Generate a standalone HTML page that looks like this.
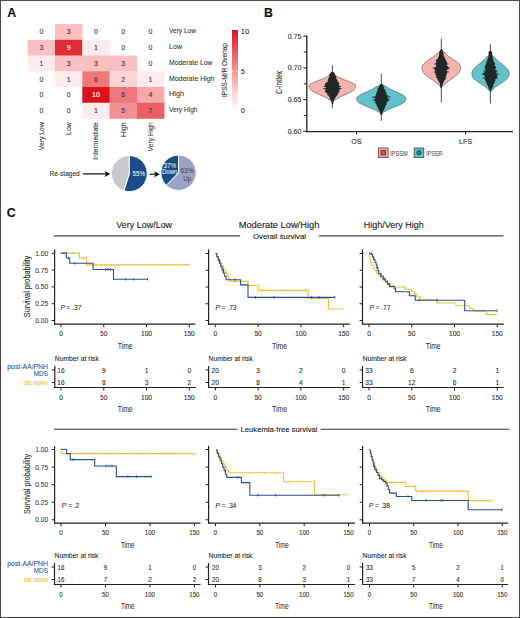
<!DOCTYPE html>
<html><head><meta charset="utf-8"><style>
html,body{margin:0;padding:0;background:#fff;}
#wrap{position:relative;width:520px;height:618px;overflow:hidden;background:#fff;}
svg{position:absolute;left:0;top:0;}
svg text{font-family:"Liberation Sans", sans-serif;}
</style></head><body><div id="wrap">
<svg width="520" height="618" viewBox="0 0 520 618">
<rect x="0" y="0" width="520" height="618" fill="#fff"/>
<text x="7.20" y="17.00" font-size="12.3" text-anchor="start" fill="#111" stroke="#111" stroke-width="0.12" font-weight="bold" >A</text>
<rect x="55.00" y="24.10" width="27.60" height="16.03" fill="rgb(249,191,193)"/>
<rect x="27.70" y="39.83" width="27.60" height="16.03" fill="rgb(249,191,193)"/>
<rect x="55.00" y="39.83" width="27.60" height="16.03" fill="rgb(222,45,51)"/>
<rect x="82.30" y="39.83" width="27.60" height="16.03" fill="rgb(254,235,236)"/>
<rect x="27.70" y="55.56" width="27.60" height="16.03" fill="rgb(254,235,236)"/>
<rect x="55.00" y="55.56" width="27.60" height="16.03" fill="rgb(249,191,193)"/>
<rect x="82.30" y="55.56" width="27.60" height="16.03" fill="rgb(249,191,193)"/>
<rect x="109.60" y="55.56" width="27.60" height="16.03" fill="rgb(249,191,193)"/>
<rect x="55.00" y="71.29" width="27.60" height="16.03" fill="rgb(254,235,236)"/>
<rect x="82.30" y="71.29" width="27.60" height="16.03" fill="rgb(238,120,123)"/>
<rect x="109.60" y="71.29" width="27.60" height="16.03" fill="rgb(252,214,215)"/>
<rect x="136.90" y="71.29" width="27.60" height="16.03" fill="rgb(254,235,236)"/>
<rect x="82.30" y="87.02" width="27.60" height="16.03" fill="rgb(216,20,26)"/>
<rect x="109.60" y="87.02" width="27.60" height="16.03" fill="rgb(238,120,123)"/>
<rect x="136.90" y="87.02" width="27.60" height="16.03" fill="rgb(246,168,170)"/>
<rect x="82.30" y="102.75" width="27.60" height="16.03" fill="rgb(254,235,236)"/>
<rect x="109.60" y="102.75" width="27.60" height="16.03" fill="rgb(242,144,147)"/>
<rect x="136.90" y="102.75" width="27.60" height="16.03" fill="rgb(233,95,99)"/>
<text x="41.35" y="34.37" font-size="7" text-anchor="middle" fill="#4a3535" stroke="#4a3535" stroke-width="0.12" >0</text>
<text x="68.65" y="34.37" font-size="7" text-anchor="middle" fill="#4a3535" stroke="#4a3535" stroke-width="0.12" >3</text>
<text x="95.95" y="34.37" font-size="7" text-anchor="middle" fill="#4a3535" stroke="#4a3535" stroke-width="0.12" >0</text>
<text x="123.25" y="34.37" font-size="7" text-anchor="middle" fill="#4a3535" stroke="#4a3535" stroke-width="0.12" >0</text>
<text x="150.55" y="34.37" font-size="7" text-anchor="middle" fill="#4a3535" stroke="#4a3535" stroke-width="0.12" >0</text>
<text x="41.35" y="50.09" font-size="7" text-anchor="middle" fill="#4a3535" stroke="#4a3535" stroke-width="0.12" >3</text>
<text x="68.65" y="50.09" font-size="7" text-anchor="middle" fill="#fff" stroke="#fff" stroke-width="0.12" >9</text>
<text x="95.95" y="50.09" font-size="7" text-anchor="middle" fill="#4a3535" stroke="#4a3535" stroke-width="0.12" >1</text>
<text x="123.25" y="50.09" font-size="7" text-anchor="middle" fill="#4a3535" stroke="#4a3535" stroke-width="0.12" >0</text>
<text x="150.55" y="50.09" font-size="7" text-anchor="middle" fill="#4a3535" stroke="#4a3535" stroke-width="0.12" >0</text>
<text x="41.35" y="65.83" font-size="7" text-anchor="middle" fill="#4a3535" stroke="#4a3535" stroke-width="0.12" >1</text>
<text x="68.65" y="65.83" font-size="7" text-anchor="middle" fill="#4a3535" stroke="#4a3535" stroke-width="0.12" >3</text>
<text x="95.95" y="65.83" font-size="7" text-anchor="middle" fill="#4a3535" stroke="#4a3535" stroke-width="0.12" >3</text>
<text x="123.25" y="65.83" font-size="7" text-anchor="middle" fill="#4a3535" stroke="#4a3535" stroke-width="0.12" >3</text>
<text x="150.55" y="65.83" font-size="7" text-anchor="middle" fill="#4a3535" stroke="#4a3535" stroke-width="0.12" >0</text>
<text x="41.35" y="81.55" font-size="7" text-anchor="middle" fill="#4a3535" stroke="#4a3535" stroke-width="0.12" >0</text>
<text x="68.65" y="81.55" font-size="7" text-anchor="middle" fill="#4a3535" stroke="#4a3535" stroke-width="0.12" >1</text>
<text x="95.95" y="81.55" font-size="7" text-anchor="middle" fill="#4a3535" stroke="#4a3535" stroke-width="0.12" >6</text>
<text x="123.25" y="81.55" font-size="7" text-anchor="middle" fill="#4a3535" stroke="#4a3535" stroke-width="0.12" >2</text>
<text x="150.55" y="81.55" font-size="7" text-anchor="middle" fill="#4a3535" stroke="#4a3535" stroke-width="0.12" >1</text>
<text x="41.35" y="97.29" font-size="7" text-anchor="middle" fill="#4a3535" stroke="#4a3535" stroke-width="0.12" >0</text>
<text x="68.65" y="97.29" font-size="7" text-anchor="middle" fill="#4a3535" stroke="#4a3535" stroke-width="0.12" >0</text>
<text x="95.95" y="97.29" font-size="7" text-anchor="middle" fill="#fff" stroke="#fff" stroke-width="0.12" >10</text>
<text x="123.25" y="97.29" font-size="7" text-anchor="middle" fill="#4a3535" stroke="#4a3535" stroke-width="0.12" >6</text>
<text x="150.55" y="97.29" font-size="7" text-anchor="middle" fill="#4a3535" stroke="#4a3535" stroke-width="0.12" >4</text>
<text x="41.35" y="113.02" font-size="7" text-anchor="middle" fill="#4a3535" stroke="#4a3535" stroke-width="0.12" >0</text>
<text x="68.65" y="113.02" font-size="7" text-anchor="middle" fill="#4a3535" stroke="#4a3535" stroke-width="0.12" >0</text>
<text x="95.95" y="113.02" font-size="7" text-anchor="middle" fill="#4a3535" stroke="#4a3535" stroke-width="0.12" >1</text>
<text x="123.25" y="113.02" font-size="7" text-anchor="middle" fill="#4a3535" stroke="#4a3535" stroke-width="0.12" >5</text>
<text x="150.55" y="113.02" font-size="7" text-anchor="middle" fill="#4a3535" stroke="#4a3535" stroke-width="0.12" >7</text>
<text x="169.00" y="33.37" font-size="7" text-anchor="start" fill="#333" stroke="#333" stroke-width="0.08" textLength="27" lengthAdjust="spacingAndGlyphs" >Very Low</text>
<text x="169.00" y="49.09" font-size="7" text-anchor="start" fill="#333" stroke="#333" stroke-width="0.08" textLength="13" lengthAdjust="spacingAndGlyphs" >Low</text>
<text x="169.00" y="64.83" font-size="7" text-anchor="start" fill="#333" stroke="#333" stroke-width="0.08" textLength="43.5" lengthAdjust="spacingAndGlyphs" >Moderate Low</text>
<text x="169.00" y="80.55" font-size="7" text-anchor="start" fill="#333" stroke="#333" stroke-width="0.08" textLength="45.4" lengthAdjust="spacingAndGlyphs" >Moderate High</text>
<text x="169.00" y="96.29" font-size="7" text-anchor="start" fill="#333" stroke="#333" stroke-width="0.08" textLength="15" lengthAdjust="spacingAndGlyphs" >High</text>
<text x="169.00" y="112.02" font-size="7" text-anchor="start" fill="#333" stroke="#333" stroke-width="0.08" textLength="28.5" lengthAdjust="spacingAndGlyphs" >Very High</text>
<text x="43.75" y="122.20" font-size="7" text-anchor="end" fill="#333" stroke="#333" stroke-width="0.08" textLength="28" lengthAdjust="spacingAndGlyphs" transform="rotate(-90 43.75 122.20)" >Very Low</text>
<text x="71.05" y="122.20" font-size="7" text-anchor="end" fill="#333" stroke="#333" stroke-width="0.08" textLength="12.7" lengthAdjust="spacingAndGlyphs" transform="rotate(-90 71.05 122.20)" >Low</text>
<text x="98.35" y="122.20" font-size="7" text-anchor="end" fill="#333" stroke="#333" stroke-width="0.08" textLength="37.5" lengthAdjust="spacingAndGlyphs" transform="rotate(-90 98.35 122.20)" >Intermediate</text>
<text x="125.65" y="122.20" font-size="7" text-anchor="end" fill="#333" stroke="#333" stroke-width="0.08" textLength="14.8" lengthAdjust="spacingAndGlyphs" transform="rotate(-90 125.65 122.20)" >High</text>
<text x="152.95" y="122.20" font-size="7" text-anchor="end" fill="#333" stroke="#333" stroke-width="0.08" textLength="29.3" lengthAdjust="spacingAndGlyphs" transform="rotate(-90 152.95 122.20)" >Very High</text>
<defs><linearGradient id="cb" x1="0" y1="0" x2="0" y2="1"><stop offset="0.0" stop-color="rgb(216,20,26)"/><stop offset="0.1" stop-color="rgb(222,45,51)"/><stop offset="0.2" stop-color="rgb(228,70,75)"/><stop offset="0.3" stop-color="rgb(233,95,99)"/><stop offset="0.4" stop-color="rgb(238,120,123)"/><stop offset="0.5" stop-color="rgb(242,144,147)"/><stop offset="0.6" stop-color="rgb(246,168,170)"/><stop offset="0.7" stop-color="rgb(249,191,193)"/><stop offset="0.8" stop-color="rgb(252,214,215)"/><stop offset="0.9" stop-color="rgb(254,235,236)"/><stop offset="1.0" stop-color="rgb(255,255,255)"/></linearGradient></defs>
<rect x="232" y="30" width="6" height="80" fill="url(#cb)"/>
<line x1="232.00" y1="70.90" x2="233.60" y2="70.90" stroke="#fff" stroke-width="0.8"/>
<line x1="236.40" y1="70.90" x2="238.00" y2="70.90" stroke="#fff" stroke-width="0.8"/>
<text x="240.80" y="34.00" font-size="7.4" text-anchor="start" fill="#333" stroke="#333" stroke-width="0.12" >10</text>
<text x="240.80" y="73.60" font-size="7.4" text-anchor="start" fill="#333" stroke="#333" stroke-width="0.12" >5</text>
<text x="240.80" y="113.00" font-size="7.4" text-anchor="start" fill="#333" stroke="#333" stroke-width="0.12" >0</text>
<text x="227.40" y="70.00" font-size="7.4" text-anchor="middle" fill="#333" stroke="#333" stroke-width="0.12" textLength="54" lengthAdjust="spacingAndGlyphs" transform="rotate(-90 227.40 70.00)" >IPSS-M/R Overlap</text>
<text x="49.50" y="175.60" font-size="7.4" text-anchor="start" fill="#333" stroke="#333" stroke-width="0.12" textLength="30.2" lengthAdjust="spacingAndGlyphs" >Re-staged</text>
<line x1="83.00" y1="173.90" x2="106.50" y2="173.90" stroke="#111" stroke-width="1.2"/>
<path d="M110.50 173.90 L104.50 170.90 L106.00 173.90 L104.50 176.90 Z" fill="#111"/>
<line x1="149.60" y1="174.20" x2="156.00" y2="174.20" stroke="#111" stroke-width="1.2"/>
<path d="M160.00 174.20 L154.00 171.20 L155.50 174.20 L154.00 177.20 Z" fill="#111"/>
<path d="M129.30 173.60 L128.99 155.60 A18 18 0 1 1 123.74 190.72 Z" fill="#1b4c8a" stroke="#fff" stroke-width="1"/>
<path d="M129.30 173.60 L123.74 190.72 A18 18 0 0 1 128.99 155.60 Z" fill="#c8c8cd" stroke="#fff" stroke-width="1"/>
<path d="M178.50 172.70 L178.50 155.00 A17.7 17.7 0 1 1 166.20 185.43 Z" fill="#9aa3c5" stroke="#fff" stroke-width="1"/>
<path d="M178.50 172.70 L166.20 185.43 A17.7 17.7 0 0 1 178.50 155.00 Z" fill="#1b4c8a" stroke="#fff" stroke-width="1"/>
<text x="138.70" y="176.20" font-size="7" text-anchor="middle" fill="#fff" textLength="12.5" lengthAdjust="spacingAndGlyphs" >55%</text>
<text x="169.90" y="167.60" font-size="7" text-anchor="middle" fill="#fff" textLength="12.7" lengthAdjust="spacingAndGlyphs" >37%</text>
<text x="169.70" y="174.00" font-size="7" text-anchor="middle" fill="#fff" textLength="15.5" lengthAdjust="spacingAndGlyphs" >Down</text>
<text x="187.00" y="172.70" font-size="7" text-anchor="middle" fill="#3d4058" textLength="13" lengthAdjust="spacingAndGlyphs" >63%</text>
<text x="187.30" y="180.60" font-size="7" text-anchor="middle" fill="#3d4058" textLength="8" lengthAdjust="spacingAndGlyphs" >Up</text>
<text x="264.00" y="17.00" font-size="12.3" text-anchor="start" fill="#111" stroke="#111" stroke-width="0.12" font-weight="bold" >B</text>
<line x1="306.80" y1="35.50" x2="306.80" y2="132.20" stroke="#222" stroke-width="1.3"/>
<line x1="306.20" y1="131.60" x2="513.00" y2="131.60" stroke="#222" stroke-width="1.3"/>
<line x1="303.30" y1="36.20" x2="306.80" y2="36.20" stroke="#222" stroke-width="1"/>
<text x="301.30" y="38.60" font-size="7" text-anchor="end" fill="#333" stroke="#333" stroke-width="0.12" >0.75</text>
<line x1="303.30" y1="67.90" x2="306.80" y2="67.90" stroke="#222" stroke-width="1"/>
<text x="301.30" y="70.30" font-size="7" text-anchor="end" fill="#333" stroke="#333" stroke-width="0.12" >0.70</text>
<line x1="303.30" y1="99.70" x2="306.80" y2="99.70" stroke="#222" stroke-width="1"/>
<text x="301.30" y="102.10" font-size="7" text-anchor="end" fill="#333" stroke="#333" stroke-width="0.12" >0.65</text>
<line x1="303.30" y1="131.20" x2="306.80" y2="131.20" stroke="#222" stroke-width="1"/>
<text x="301.30" y="133.60" font-size="7" text-anchor="end" fill="#333" stroke="#333" stroke-width="0.12" >0.60</text>
<line x1="303.80" y1="52.05" x2="306.80" y2="52.05" stroke="#222" stroke-width="1"/>
<line x1="303.80" y1="83.80" x2="306.80" y2="83.80" stroke="#222" stroke-width="1"/>
<line x1="303.80" y1="115.45" x2="306.80" y2="115.45" stroke="#222" stroke-width="1"/>
<text x="282.30" y="82.50" font-size="8.5" text-anchor="middle" fill="#333" stroke="#333" stroke-width="0.12" textLength="23" lengthAdjust="spacingAndGlyphs" transform="rotate(-90 282.30 82.50)" >C-index</text>
<line x1="356.50" y1="131.60" x2="356.50" y2="134.50" stroke="#222" stroke-width="1"/>
<text x="356.50" y="144.00" font-size="7.2" text-anchor="middle" fill="#333" stroke="#333" stroke-width="0.12" >OS</text>
<line x1="465.60" y1="131.60" x2="465.60" y2="134.50" stroke="#222" stroke-width="1"/>
<text x="465.60" y="144.00" font-size="7.2" text-anchor="middle" fill="#333" stroke="#333" stroke-width="0.12" >LFS</text>
<rect x="378.4" y="148" width="9.6" height="9.6" fill="#f5b0aa" stroke="#444" stroke-width="0.8"/>
<rect x="381" y="150.6" width="4.4" height="4.4" fill="#c85560" stroke="#9a2030" stroke-width="1"/>
<text x="390.20" y="155.60" font-size="6.8" text-anchor="start" fill="#444" stroke="#444" stroke-width="0.04" textLength="17.5" lengthAdjust="spacingAndGlyphs" >IPSSM</text>
<rect x="414.2" y="148" width="9.6" height="9.6" fill="#5ec3c8" stroke="#444" stroke-width="0.8"/>
<circle cx="419" cy="152.8" r="2.1" fill="#2d8f95" stroke="#173838" stroke-width="1"/>
<text x="426.00" y="155.60" font-size="6.8" text-anchor="start" fill="#444" stroke="#444" stroke-width="0.04" textLength="16.5" lengthAdjust="spacingAndGlyphs" >IPSSR</text>
<path d="M332.40 71.50 L332.54 71.89 L332.71 72.28 L332.91 72.67 L333.16 73.06 L333.49 73.45 L333.89 73.84 L334.39 74.23 L334.91 74.62 L335.32 75.01 L335.78 75.40 L336.30 75.79 L336.87 76.18 L337.49 76.57 L338.17 76.96 L338.91 77.35 L339.70 77.74 L340.54 78.13 L341.43 78.52 L342.37 78.91 L343.34 79.30 L344.34 79.69 L345.36 80.08 L346.39 80.47 L347.43 80.86 L348.45 81.25 L349.45 81.64 L350.41 82.03 L351.33 82.42 L352.19 82.81 L352.97 83.20 L353.67 83.59 L354.27 83.98 L354.77 84.37 L355.16 84.76 L355.43 85.15 L355.57 85.54 L355.60 85.93 L355.59 86.32 L355.56 86.71 L355.51 87.10 L355.42 87.49 L355.28 87.88 L355.11 88.27 L354.88 88.66 L354.61 89.05 L354.28 89.44 L353.89 89.83 L353.45 90.22 L352.96 90.61 L352.40 91.00 L351.80 91.39 L351.15 91.78 L350.45 92.17 L349.70 92.56 L348.92 92.95 L348.12 93.34 L347.28 93.73 L346.43 94.12 L345.56 94.51 L344.69 94.90 L343.82 95.29 L342.97 95.68 L342.12 96.07 L341.30 96.46 L340.50 96.85 L339.73 97.24 L339.00 97.63 L338.31 98.02 L337.66 98.41 L337.06 98.80 L336.50 99.19 L335.98 99.58 L335.29 99.97 L334.60 100.36 L334.03 100.75 L333.56 101.14 L333.18 101.53 L332.88 101.92 L332.63 102.31 L332.40 102.70 L332.40 102.70 L332.17 102.31 L331.92 101.92 L331.62 101.53 L331.24 101.14 L330.77 100.75 L330.20 100.36 L329.51 99.97 L328.82 99.58 L328.30 99.19 L327.74 98.80 L327.14 98.41 L326.49 98.02 L325.80 97.63 L325.07 97.24 L324.30 96.85 L323.50 96.46 L322.68 96.07 L321.83 95.68 L320.98 95.29 L320.11 94.90 L319.24 94.51 L318.37 94.12 L317.52 93.73 L316.68 93.34 L315.88 92.95 L315.10 92.56 L314.35 92.17 L313.65 91.78 L313.00 91.39 L312.40 91.00 L311.84 90.61 L311.35 90.22 L310.91 89.83 L310.52 89.44 L310.19 89.05 L309.92 88.66 L309.69 88.27 L309.52 87.88 L309.38 87.49 L309.29 87.10 L309.24 86.71 L309.21 86.32 L309.20 85.93 L309.23 85.54 L309.37 85.15 L309.64 84.76 L310.03 84.37 L310.53 83.98 L311.13 83.59 L311.83 83.20 L312.61 82.81 L313.47 82.42 L314.39 82.03 L315.35 81.64 L316.35 81.25 L317.37 80.86 L318.41 80.47 L319.44 80.08 L320.46 79.69 L321.46 79.30 L322.43 78.91 L323.37 78.52 L324.26 78.13 L325.10 77.74 L325.89 77.35 L326.63 76.96 L327.31 76.57 L327.93 76.18 L328.50 75.79 L329.02 75.40 L329.48 75.01 L329.89 74.62 L330.41 74.23 L330.91 73.84 L331.31 73.45 L331.64 73.06 L331.89 72.67 L332.09 72.28 L332.26 71.89 L332.40 71.50Z" fill="#f6b3ad" stroke="#444" stroke-width="0.6"/>
<line x1="332.40" y1="65.20" x2="332.40" y2="108.00" stroke="#222" stroke-width="0.8"/>
<path d="M333.42 72.00 L334.11 72.80 L334.97 73.60 L334.78 74.40 L335.17 75.20 L336.12 76.00 L336.11 76.80 L336.16 77.60 L336.47 78.40 L336.62 79.20 L337.15 80.00 L337.77 80.80 L337.40 81.60 L338.97 82.40 L339.09 83.20 L339.30 84.00 L338.79 84.80 L339.11 85.60 L340.32 86.40 L338.58 87.20 L340.74 88.00 L339.98 88.80 L339.45 89.60 L338.74 90.40 L338.94 91.20 L338.80 92.00 L338.79 92.80 L337.98 93.60 L337.82 94.40 L337.39 95.20 L336.61 96.00 L336.27 96.80 L335.20 97.60 L335.30 98.40 L334.22 99.20 L334.03 100.00 L333.54 100.80 L333.56 101.60 L333.35 102.40 L333.25 103.20 L333.16 104.00 L331.61 104.00 L331.66 103.20 L331.63 102.40 L331.53 101.60 L331.05 100.80 L330.93 100.00 L330.05 99.20 L329.38 98.40 L329.84 97.60 L328.84 96.80 L328.88 96.00 L327.93 95.20 L326.80 94.40 L327.76 93.60 L325.74 92.80 L325.48 92.00 L325.14 91.20 L325.51 90.40 L325.65 89.60 L325.65 88.80 L325.39 88.00 L326.02 87.20 L326.40 86.40 L324.52 85.60 L325.07 84.80 L325.03 84.00 L325.36 83.20 L326.63 82.40 L327.91 81.60 L327.31 80.80 L328.60 80.00 L327.87 79.20 L328.02 78.40 L329.25 77.60 L329.10 76.80 L329.26 76.00 L329.66 75.20 L329.19 74.40 L330.31 73.60 L330.54 72.80 L331.26 72.00Z" fill="#1f2826"/>
<line x1="323.90" y1="86.50" x2="340.90" y2="86.50" stroke="#1f2826" stroke-width="1.0"/>
<line x1="323.30" y1="88.70" x2="341.50" y2="88.70" stroke="#1f2826" stroke-width="1.0"/>
<line x1="324.90" y1="91.00" x2="339.90" y2="91.00" stroke="#1f2826" stroke-width="1.0"/>
<path d="M381.30 83.80 L381.77 84.18 L382.22 84.56 L382.73 84.95 L383.32 85.33 L384.00 85.71 L384.78 86.09 L385.67 86.48 L386.60 86.86 L387.15 87.24 L387.73 87.62 L388.35 88.01 L389.00 88.39 L389.69 88.77 L390.41 89.16 L391.15 89.54 L391.93 89.92 L392.73 90.30 L393.54 90.69 L394.38 91.07 L395.22 91.45 L396.07 91.83 L396.92 92.22 L397.77 92.60 L398.60 92.98 L399.42 93.36 L400.22 93.75 L400.99 94.13 L401.72 94.51 L402.41 94.89 L403.05 95.28 L403.64 95.66 L404.17 96.04 L404.63 96.42 L405.03 96.81 L405.36 97.19 L405.61 97.57 L405.79 97.95 L405.88 98.34 L405.90 98.72 L405.89 99.10 L405.86 99.48 L405.79 99.87 L405.68 100.25 L405.52 100.63 L405.31 101.01 L405.03 101.40 L404.70 101.78 L404.30 102.16 L403.83 102.54 L403.30 102.93 L402.71 103.31 L402.05 103.69 L401.32 104.07 L400.55 104.46 L399.72 104.84 L398.85 105.22 L397.95 105.60 L397.01 105.98 L396.05 106.37 L395.08 106.75 L394.10 107.13 L393.13 107.52 L392.17 107.90 L391.24 108.28 L390.33 108.66 L389.45 109.05 L388.61 109.43 L387.82 109.81 L387.08 110.19 L386.39 110.58 L385.75 110.96 L385.16 111.34 L384.34 111.72 L383.60 112.11 L382.99 112.49 L382.49 112.87 L382.09 113.25 L381.78 113.64 L381.53 114.02 L381.30 114.40 L381.30 114.40 L381.07 114.02 L380.82 113.64 L380.51 113.25 L380.11 112.87 L379.61 112.49 L379.00 112.11 L378.26 111.72 L377.44 111.34 L376.85 110.96 L376.21 110.58 L375.52 110.19 L374.78 109.81 L373.99 109.43 L373.15 109.05 L372.27 108.66 L371.36 108.28 L370.43 107.90 L369.47 107.52 L368.50 107.13 L367.52 106.75 L366.55 106.37 L365.59 105.98 L364.65 105.60 L363.75 105.22 L362.88 104.84 L362.05 104.46 L361.28 104.07 L360.55 103.69 L359.89 103.31 L359.30 102.93 L358.77 102.54 L358.30 102.16 L357.90 101.78 L357.57 101.40 L357.29 101.01 L357.08 100.63 L356.92 100.25 L356.81 99.87 L356.74 99.48 L356.71 99.10 L356.70 98.72 L356.72 98.34 L356.81 97.95 L356.99 97.57 L357.24 97.19 L357.57 96.81 L357.97 96.42 L358.43 96.04 L358.96 95.66 L359.55 95.28 L360.19 94.89 L360.88 94.51 L361.61 94.13 L362.38 93.75 L363.18 93.36 L364.00 92.98 L364.83 92.60 L365.68 92.22 L366.53 91.83 L367.38 91.45 L368.22 91.07 L369.06 90.69 L369.87 90.30 L370.67 89.92 L371.45 89.54 L372.19 89.16 L372.91 88.77 L373.60 88.39 L374.25 88.01 L374.87 87.62 L375.45 87.24 L376.00 86.86 L376.93 86.48 L377.82 86.09 L378.60 85.71 L379.28 85.33 L379.87 84.95 L380.38 84.56 L380.83 84.18 L381.30 83.80Z" fill="#5fc3c9" stroke="#444" stroke-width="0.6"/>
<line x1="381.30" y1="73.70" x2="381.30" y2="121.00" stroke="#222" stroke-width="0.8"/>
<path d="M382.20 84.00 L382.65 84.82 L383.36 85.63 L383.45 86.45 L384.10 87.26 L383.82 88.08 L384.38 88.89 L385.39 89.71 L385.13 90.53 L385.70 91.34 L385.87 92.16 L386.82 92.97 L386.25 93.79 L386.23 94.61 L388.06 95.42 L387.56 96.24 L387.62 97.05 L386.90 97.87 L388.57 98.68 L388.54 99.50 L388.39 100.32 L388.18 101.13 L386.43 101.95 L387.56 102.76 L386.38 103.58 L386.67 104.39 L385.90 105.21 L385.56 106.03 L385.12 106.84 L385.34 107.66 L384.64 108.47 L383.95 109.29 L383.96 110.11 L383.06 110.92 L382.94 111.74 L382.41 112.55 L382.43 113.37 L382.25 114.18 L381.93 115.00 L380.59 115.00 L380.56 114.18 L380.31 113.37 L380.19 112.55 L379.98 111.74 L379.37 110.92 L379.11 110.11 L378.74 109.29 L377.77 108.47 L378.22 107.66 L377.37 106.84 L376.68 106.03 L376.78 105.21 L376.43 104.39 L375.82 103.58 L374.44 102.76 L376.09 101.95 L374.35 101.13 L374.97 100.32 L374.45 99.50 L375.42 98.68 L374.30 97.87 L374.61 97.05 L376.20 96.24 L375.47 95.42 L376.25 94.61 L375.83 93.79 L376.51 92.97 L376.63 92.16 L376.98 91.34 L377.39 90.53 L377.86 89.71 L377.48 88.89 L377.92 88.08 L378.93 87.26 L378.97 86.45 L379.63 85.63 L380.07 84.82 L380.25 84.00Z" fill="#1f2826"/>
<line x1="372.30" y1="97.00" x2="390.30" y2="97.00" stroke="#1f2826" stroke-width="1.0"/>
<line x1="372.80" y1="100.00" x2="389.80" y2="100.00" stroke="#1f2826" stroke-width="1.0"/>
<path d="M441.30 49.20 L441.67 49.68 L442.04 50.16 L442.46 50.64 L442.96 51.12 L443.54 51.60 L444.22 52.08 L444.69 52.56 L445.09 53.04 L445.53 53.52 L445.99 54.00 L446.49 54.48 L447.02 54.96 L447.58 55.44 L448.17 55.92 L448.79 56.40 L449.43 56.88 L450.10 57.36 L450.78 57.84 L451.48 58.32 L452.19 58.80 L452.90 59.28 L453.62 59.76 L454.33 60.24 L455.03 60.72 L455.71 61.20 L456.37 61.68 L457.01 62.16 L457.60 62.64 L458.16 63.12 L458.67 63.60 L459.13 64.08 L459.54 64.56 L459.88 65.04 L460.16 65.52 L460.38 66.00 L460.52 66.48 L460.59 66.96 L460.60 67.44 L460.59 67.92 L460.57 68.40 L460.52 68.88 L460.45 69.36 L460.35 69.84 L460.21 70.32 L460.04 70.80 L459.83 71.28 L459.58 71.76 L459.28 72.24 L458.95 72.72 L458.57 73.20 L458.15 73.68 L457.69 74.16 L457.19 74.64 L456.65 75.12 L456.08 75.60 L455.48 76.08 L454.86 76.56 L454.21 77.04 L453.54 77.52 L452.86 78.00 L452.18 78.48 L451.48 78.96 L450.80 79.44 L450.11 79.92 L449.44 80.40 L448.79 80.88 L448.15 81.36 L447.54 81.84 L446.95 82.32 L446.39 82.80 L445.86 83.28 L445.37 83.76 L444.91 84.24 L444.38 84.72 L443.64 85.20 L443.00 85.68 L442.47 86.16 L442.03 86.64 L441.66 87.12 L441.30 87.60 L441.30 87.60 L440.94 87.12 L440.57 86.64 L440.13 86.16 L439.60 85.68 L438.96 85.20 L438.22 84.72 L437.69 84.24 L437.23 83.76 L436.74 83.28 L436.21 82.80 L435.65 82.32 L435.06 81.84 L434.45 81.36 L433.81 80.88 L433.16 80.40 L432.49 79.92 L431.80 79.44 L431.12 78.96 L430.42 78.48 L429.74 78.00 L429.06 77.52 L428.39 77.04 L427.74 76.56 L427.12 76.08 L426.52 75.60 L425.95 75.12 L425.41 74.64 L424.91 74.16 L424.45 73.68 L424.03 73.20 L423.65 72.72 L423.32 72.24 L423.02 71.76 L422.77 71.28 L422.56 70.80 L422.39 70.32 L422.25 69.84 L422.15 69.36 L422.08 68.88 L422.03 68.40 L422.01 67.92 L422.00 67.44 L422.01 66.96 L422.08 66.48 L422.22 66.00 L422.44 65.52 L422.72 65.04 L423.06 64.56 L423.47 64.08 L423.93 63.60 L424.44 63.12 L425.00 62.64 L425.59 62.16 L426.23 61.68 L426.89 61.20 L427.57 60.72 L428.27 60.24 L428.98 59.76 L429.70 59.28 L430.41 58.80 L431.12 58.32 L431.82 57.84 L432.50 57.36 L433.17 56.88 L433.81 56.40 L434.43 55.92 L435.02 55.44 L435.58 54.96 L436.11 54.48 L436.61 54.00 L437.07 53.52 L437.51 53.04 L437.91 52.56 L438.38 52.08 L439.06 51.60 L439.64 51.12 L440.14 50.64 L440.56 50.16 L440.93 49.68 L441.30 49.20Z" fill="#f6b3ad" stroke="#444" stroke-width="0.6"/>
<line x1="441.30" y1="38.50" x2="441.30" y2="102.30" stroke="#222" stroke-width="0.8"/>
<path d="M442.44 49.70 L442.46 50.51 L442.88 51.33 L443.32 52.14 L443.08 52.96 L443.72 53.77 L443.93 54.59 L443.52 55.40 L444.32 56.22 L444.19 57.03 L444.65 57.85 L445.70 58.66 L444.80 59.48 L446.47 60.29 L445.97 61.11 L447.04 61.92 L446.96 62.74 L447.05 63.55 L446.54 64.37 L446.60 65.18 L447.48 66.00 L448.09 66.81 L448.45 67.63 L448.65 68.44 L448.65 69.26 L446.52 70.07 L446.74 70.89 L447.63 71.70 L446.96 72.52 L447.21 73.33 L446.36 74.15 L446.64 74.96 L446.13 75.78 L446.16 76.59 L445.29 77.41 L446.14 78.22 L445.67 79.04 L445.10 79.85 L443.99 80.67 L443.80 81.48 L443.49 82.30 L443.37 83.11 L442.69 83.93 L442.51 84.74 L442.63 85.56 L442.11 86.37 L442.06 87.19 L441.94 88.00 L440.59 88.00 L440.54 87.19 L440.35 86.37 L440.01 85.56 L440.12 84.74 L439.87 83.93 L439.74 83.11 L439.07 82.30 L438.55 81.48 L438.36 80.67 L437.20 79.85 L438.05 79.04 L436.63 78.22 L436.33 77.41 L435.96 76.59 L436.74 75.78 L435.38 74.96 L435.06 74.15 L435.93 73.33 L434.56 72.52 L435.26 71.70 L435.59 70.89 L434.46 70.07 L434.68 69.26 L434.01 68.44 L434.61 67.63 L436.15 66.81 L435.76 66.00 L436.33 65.18 L435.96 64.37 L435.83 63.55 L435.47 62.74 L436.79 61.92 L435.77 61.11 L435.96 60.29 L436.41 59.48 L437.92 58.66 L437.96 57.85 L438.33 57.03 L438.78 56.22 L438.93 55.40 L439.06 54.59 L439.00 53.77 L439.45 52.96 L439.26 52.14 L439.91 51.33 L440.18 50.51 L440.31 49.70Z" fill="#1f2826"/>
<line x1="434.30" y1="64.00" x2="448.30" y2="64.00" stroke="#1f2826" stroke-width="1.0"/>
<line x1="432.80" y1="68.00" x2="449.80" y2="68.00" stroke="#1f2826" stroke-width="1.0"/>
<line x1="433.80" y1="72.00" x2="448.80" y2="72.00" stroke="#1f2826" stroke-width="1.0"/>
<path d="M490.50 54.20 L491.07 54.68 L491.59 55.16 L492.17 55.64 L492.82 56.12 L493.56 56.60 L494.38 57.08 L494.88 57.56 L495.29 58.04 L495.71 58.52 L496.15 59.00 L496.62 59.48 L497.10 59.96 L497.61 60.44 L498.13 60.92 L498.67 61.40 L499.22 61.88 L499.79 62.36 L500.37 62.84 L500.95 63.32 L501.54 63.80 L502.12 64.28 L502.71 64.76 L503.29 65.24 L503.87 65.72 L504.43 66.20 L504.97 66.68 L505.49 67.16 L506.00 67.64 L506.47 68.12 L506.91 68.60 L507.33 69.08 L507.70 69.56 L508.03 70.04 L508.33 70.52 L508.58 71.00 L508.78 71.48 L508.93 71.96 L509.04 72.44 L509.09 72.92 L509.10 73.40 L509.09 73.88 L509.06 74.36 L509.00 74.84 L508.91 75.32 L508.78 75.80 L508.61 76.28 L508.39 76.76 L508.12 77.24 L507.80 77.72 L507.43 78.20 L507.00 78.68 L506.53 79.16 L506.01 79.64 L505.44 80.12 L504.83 80.60 L504.18 81.08 L503.49 81.56 L502.79 82.04 L502.06 82.52 L501.32 83.00 L500.57 83.48 L499.82 83.96 L499.08 84.44 L498.35 84.92 L497.64 85.40 L496.95 85.88 L496.29 86.36 L495.67 86.84 L495.08 87.32 L494.53 87.80 L494.03 88.28 L493.56 88.76 L493.14 89.24 L492.69 89.72 L492.11 90.20 L491.63 90.68 L491.25 91.16 L490.95 91.64 L490.71 92.12 L490.50 92.60 L490.50 92.60 L490.29 92.12 L490.05 91.64 L489.75 91.16 L489.37 90.68 L488.89 90.20 L488.31 89.72 L487.86 89.24 L487.44 88.76 L486.97 88.28 L486.47 87.80 L485.92 87.32 L485.33 86.84 L484.71 86.36 L484.05 85.88 L483.36 85.40 L482.65 84.92 L481.92 84.44 L481.18 83.96 L480.43 83.48 L479.68 83.00 L478.94 82.52 L478.21 82.04 L477.51 81.56 L476.82 81.08 L476.17 80.60 L475.56 80.12 L474.99 79.64 L474.47 79.16 L474.00 78.68 L473.57 78.20 L473.20 77.72 L472.88 77.24 L472.61 76.76 L472.39 76.28 L472.22 75.80 L472.09 75.32 L472.00 74.84 L471.94 74.36 L471.91 73.88 L471.90 73.40 L471.91 72.92 L471.96 72.44 L472.07 71.96 L472.22 71.48 L472.42 71.00 L472.67 70.52 L472.97 70.04 L473.30 69.56 L473.67 69.08 L474.09 68.60 L474.53 68.12 L475.00 67.64 L475.51 67.16 L476.03 66.68 L476.57 66.20 L477.13 65.72 L477.71 65.24 L478.29 64.76 L478.88 64.28 L479.46 63.80 L480.05 63.32 L480.63 62.84 L481.21 62.36 L481.78 61.88 L482.33 61.40 L482.87 60.92 L483.39 60.44 L483.90 59.96 L484.38 59.48 L484.85 59.00 L485.29 58.52 L485.71 58.04 L486.12 57.56 L486.62 57.08 L487.44 56.60 L488.18 56.12 L488.83 55.64 L489.41 55.16 L489.93 54.68 L490.50 54.20Z" fill="#5fc3c9" stroke="#444" stroke-width="0.6"/>
<line x1="490.40" y1="44.20" x2="490.40" y2="103.30" stroke="#222" stroke-width="0.8"/>
<path d="M491.32 51.00 L491.85 51.81 L492.02 52.62 L492.50 53.44 L492.11 54.25 L492.28 55.06 L492.53 55.88 L492.51 56.69 L492.52 57.50 L492.85 58.31 L493.05 59.12 L493.36 59.94 L493.71 60.75 L493.42 61.56 L494.10 62.38 L495.04 63.19 L495.25 64.00 L494.51 64.81 L494.49 65.62 L495.62 66.44 L496.09 67.25 L496.23 68.06 L495.17 68.88 L495.10 69.69 L496.80 70.50 L495.54 71.31 L497.36 72.12 L495.65 72.94 L495.99 73.75 L497.18 74.56 L497.63 75.38 L497.12 76.19 L496.89 77.00 L496.62 77.81 L496.52 78.62 L495.04 79.44 L495.78 80.25 L494.86 81.06 L494.54 81.88 L494.94 82.69 L494.03 83.50 L493.66 84.31 L493.03 85.12 L493.55 85.94 L492.94 86.75 L492.50 87.56 L492.10 88.38 L491.56 89.19 L491.17 90.00 L489.81 90.00 L489.18 89.19 L488.79 88.38 L488.25 87.56 L488.34 86.75 L487.78 85.94 L487.33 85.12 L487.06 84.31 L486.73 83.50 L486.38 82.69 L485.68 81.88 L486.05 81.06 L484.53 80.25 L485.26 79.44 L483.91 78.62 L485.41 77.81 L484.44 77.00 L485.30 76.19 L483.99 75.38 L483.26 74.56 L483.17 73.75 L483.35 72.94 L484.94 72.12 L485.25 71.31 L485.49 70.50 L485.42 69.69 L484.69 68.88 L484.89 68.06 L484.93 67.25 L484.79 66.44 L485.17 65.62 L485.97 64.81 L485.71 64.00 L486.55 63.19 L486.09 62.38 L486.95 61.56 L486.90 60.75 L487.67 59.94 L487.49 59.12 L487.78 58.31 L488.32 57.50 L488.41 56.69 L488.54 55.88 L488.36 55.06 L488.62 54.25 L488.53 53.44 L488.50 52.62 L488.87 51.81 L489.55 51.00Z" fill="#1f2826"/>
<line x1="483.40" y1="71.00" x2="497.40" y2="71.00" stroke="#1f2826" stroke-width="1.0"/>
<line x1="481.90" y1="74.00" x2="498.90" y2="74.00" stroke="#1f2826" stroke-width="1.0"/>
<line x1="482.90" y1="78.00" x2="497.90" y2="78.00" stroke="#1f2826" stroke-width="1.0"/>
<text x="6.80" y="217.00" font-size="12.3" text-anchor="start" fill="#111" stroke="#111" stroke-width="0.12" font-weight="bold" >C</text>
<text x="144.20" y="227.50" font-size="9.3" text-anchor="middle" fill="#222" stroke="#222" stroke-width="0.12" textLength="55.8" lengthAdjust="spacingAndGlyphs" >Very Low/Low</text>
<text x="279.00" y="227.60" font-size="9.3" text-anchor="middle" fill="#222" stroke="#222" stroke-width="0.12" >Moderate Low/High</text>
<text x="393.80" y="227.70" font-size="9.3" text-anchor="middle" fill="#222" stroke="#222" stroke-width="0.12" textLength="60" lengthAdjust="spacingAndGlyphs" >High/Very High</text>
<line x1="54.00" y1="235.90" x2="240.00" y2="235.90" stroke="#444" stroke-width="1.2"/>
<line x1="319.00" y1="235.90" x2="503.50" y2="235.90" stroke="#444" stroke-width="1.2"/>
<text x="279.50" y="238.90" font-size="7.9" text-anchor="middle" fill="#222" stroke="#222" stroke-width="0.12" textLength="53" lengthAdjust="spacingAndGlyphs" >Overall survival</text>
<line x1="54.00" y1="429.20" x2="237.50" y2="429.20" stroke="#333" stroke-width="1.1"/>
<line x1="320.50" y1="429.20" x2="509.60" y2="429.20" stroke="#333" stroke-width="1.1"/>
<text x="279.05" y="432.00" font-size="7.9" text-anchor="middle" fill="#222" stroke="#222" stroke-width="0.12" textLength="77" lengthAdjust="spacingAndGlyphs" >Leukemia-free survival</text>
<line x1="54.60" y1="249.50" x2="54.60" y2="324.80" stroke="#222" stroke-width="1.2"/>
<line x1="54.00" y1="324.20" x2="195.50" y2="324.20" stroke="#222" stroke-width="1.2"/>
<line x1="51.60" y1="320.50" x2="54.60" y2="320.50" stroke="#222" stroke-width="1"/>
<text x="48.10" y="323.00" font-size="7.1" text-anchor="end" fill="#3a3a3a" stroke="#3a3a3a" stroke-width="0.08" textLength="12.9" lengthAdjust="spacingAndGlyphs" >0.00</text>
<line x1="51.60" y1="303.70" x2="54.60" y2="303.70" stroke="#222" stroke-width="1"/>
<text x="48.10" y="306.20" font-size="7.1" text-anchor="end" fill="#3a3a3a" stroke="#3a3a3a" stroke-width="0.08" textLength="12.9" lengthAdjust="spacingAndGlyphs" >0.25</text>
<line x1="51.60" y1="286.90" x2="54.60" y2="286.90" stroke="#222" stroke-width="1"/>
<text x="48.10" y="289.40" font-size="7.1" text-anchor="end" fill="#3a3a3a" stroke="#3a3a3a" stroke-width="0.08" textLength="12.9" lengthAdjust="spacingAndGlyphs" >0.50</text>
<line x1="51.60" y1="270.10" x2="54.60" y2="270.10" stroke="#222" stroke-width="1"/>
<text x="48.10" y="272.60" font-size="7.1" text-anchor="end" fill="#3a3a3a" stroke="#3a3a3a" stroke-width="0.08" textLength="12.9" lengthAdjust="spacingAndGlyphs" >0.75</text>
<line x1="51.60" y1="253.30" x2="54.60" y2="253.30" stroke="#222" stroke-width="1"/>
<text x="48.10" y="255.80" font-size="7.1" text-anchor="end" fill="#3a3a3a" stroke="#3a3a3a" stroke-width="0.08" textLength="12.9" lengthAdjust="spacingAndGlyphs" >1.00</text>
<line x1="61.00" y1="324.20" x2="61.00" y2="327.20" stroke="#222" stroke-width="1"/>
<text x="61.00" y="336.20" font-size="6.6" text-anchor="middle" fill="#333" stroke="#333" stroke-width="0.12" textLength="3.7" lengthAdjust="spacingAndGlyphs" >0</text>
<line x1="103.77" y1="324.20" x2="103.77" y2="327.20" stroke="#222" stroke-width="1"/>
<text x="103.77" y="336.20" font-size="6.6" text-anchor="middle" fill="#333" stroke="#333" stroke-width="0.12" textLength="7.4" lengthAdjust="spacingAndGlyphs" >50</text>
<line x1="146.53" y1="324.20" x2="146.53" y2="327.20" stroke="#222" stroke-width="1"/>
<text x="146.53" y="336.20" font-size="6.6" text-anchor="middle" fill="#333" stroke="#333" stroke-width="0.12" textLength="11.100000000000001" lengthAdjust="spacingAndGlyphs" >100</text>
<line x1="189.29" y1="324.20" x2="189.29" y2="327.20" stroke="#222" stroke-width="1"/>
<text x="189.29" y="336.20" font-size="6.6" text-anchor="middle" fill="#333" stroke="#333" stroke-width="0.12" textLength="11.100000000000001" lengthAdjust="spacingAndGlyphs" >150</text>
<text x="125.15" y="348.80" font-size="9.4" text-anchor="middle" fill="#333" stroke="#333" stroke-width="0.08" textLength="14.8" lengthAdjust="spacingAndGlyphs" >Time</text>
<text x="60.40" y="310.00" font-size="6.8" text-anchor="start" fill="#333" stroke="#333" stroke-width="0.12" textLength="21" lengthAdjust="spacingAndGlyphs" ><tspan font-style="italic">P</tspan> = .37</text>
<line x1="208.60" y1="249.50" x2="208.60" y2="324.80" stroke="#222" stroke-width="1.2"/>
<line x1="208.00" y1="324.20" x2="350.00" y2="324.20" stroke="#222" stroke-width="1.2"/>
<line x1="205.60" y1="320.50" x2="208.60" y2="320.50" stroke="#222" stroke-width="1"/>
<line x1="205.60" y1="303.75" x2="208.60" y2="303.75" stroke="#222" stroke-width="1"/>
<line x1="205.60" y1="287.00" x2="208.60" y2="287.00" stroke="#222" stroke-width="1"/>
<line x1="205.60" y1="270.25" x2="208.60" y2="270.25" stroke="#222" stroke-width="1"/>
<line x1="205.60" y1="253.50" x2="208.60" y2="253.50" stroke="#222" stroke-width="1"/>
<line x1="215.30" y1="324.20" x2="215.30" y2="327.20" stroke="#222" stroke-width="1"/>
<text x="215.30" y="336.20" font-size="6.6" text-anchor="middle" fill="#333" stroke="#333" stroke-width="0.12" textLength="3.7" lengthAdjust="spacingAndGlyphs" >0</text>
<line x1="258.10" y1="324.20" x2="258.10" y2="327.20" stroke="#222" stroke-width="1"/>
<text x="258.10" y="336.20" font-size="6.6" text-anchor="middle" fill="#333" stroke="#333" stroke-width="0.12" textLength="7.4" lengthAdjust="spacingAndGlyphs" >50</text>
<line x1="300.90" y1="324.20" x2="300.90" y2="327.20" stroke="#222" stroke-width="1"/>
<text x="300.90" y="336.20" font-size="6.6" text-anchor="middle" fill="#333" stroke="#333" stroke-width="0.12" textLength="11.100000000000001" lengthAdjust="spacingAndGlyphs" >100</text>
<line x1="343.70" y1="324.20" x2="343.70" y2="327.20" stroke="#222" stroke-width="1"/>
<text x="343.70" y="336.20" font-size="6.6" text-anchor="middle" fill="#333" stroke="#333" stroke-width="0.12" textLength="11.100000000000001" lengthAdjust="spacingAndGlyphs" >150</text>
<text x="279.50" y="348.80" font-size="9.4" text-anchor="middle" fill="#333" stroke="#333" stroke-width="0.08" textLength="14.8" lengthAdjust="spacingAndGlyphs" >Time</text>
<text x="215.50" y="309.50" font-size="6.8" text-anchor="start" fill="#333" stroke="#333" stroke-width="0.12" textLength="21" lengthAdjust="spacingAndGlyphs" ><tspan font-style="italic">P</tspan> = .73</text>
<line x1="362.50" y1="249.50" x2="362.50" y2="324.80" stroke="#222" stroke-width="1.2"/>
<line x1="361.90" y1="324.20" x2="503.70" y2="324.20" stroke="#222" stroke-width="1.2"/>
<line x1="359.50" y1="320.50" x2="362.50" y2="320.50" stroke="#222" stroke-width="1"/>
<line x1="359.50" y1="303.75" x2="362.50" y2="303.75" stroke="#222" stroke-width="1"/>
<line x1="359.50" y1="287.00" x2="362.50" y2="287.00" stroke="#222" stroke-width="1"/>
<line x1="359.50" y1="270.25" x2="362.50" y2="270.25" stroke="#222" stroke-width="1"/>
<line x1="359.50" y1="253.50" x2="362.50" y2="253.50" stroke="#222" stroke-width="1"/>
<line x1="369.00" y1="324.20" x2="369.00" y2="327.20" stroke="#222" stroke-width="1"/>
<text x="369.00" y="336.20" font-size="6.6" text-anchor="middle" fill="#333" stroke="#333" stroke-width="0.12" textLength="3.7" lengthAdjust="spacingAndGlyphs" >0</text>
<line x1="411.76" y1="324.20" x2="411.76" y2="327.20" stroke="#222" stroke-width="1"/>
<text x="411.76" y="336.20" font-size="6.6" text-anchor="middle" fill="#333" stroke="#333" stroke-width="0.12" textLength="7.4" lengthAdjust="spacingAndGlyphs" >50</text>
<line x1="454.53" y1="324.20" x2="454.53" y2="327.20" stroke="#222" stroke-width="1"/>
<text x="454.53" y="336.20" font-size="6.6" text-anchor="middle" fill="#333" stroke="#333" stroke-width="0.12" textLength="11.100000000000001" lengthAdjust="spacingAndGlyphs" >100</text>
<line x1="497.29" y1="324.20" x2="497.29" y2="327.20" stroke="#222" stroke-width="1"/>
<text x="497.29" y="336.20" font-size="6.6" text-anchor="middle" fill="#333" stroke="#333" stroke-width="0.12" textLength="11.100000000000001" lengthAdjust="spacingAndGlyphs" >150</text>
<text x="433.15" y="348.80" font-size="9.4" text-anchor="middle" fill="#333" stroke="#333" stroke-width="0.08" textLength="14.8" lengthAdjust="spacingAndGlyphs" >Time</text>
<text x="369.40" y="309.80" font-size="6.8" text-anchor="start" fill="#333" stroke="#333" stroke-width="0.12" textLength="21" lengthAdjust="spacingAndGlyphs" ><tspan font-style="italic">P</tspan> = .77</text>
<text x="29.80" y="286.50" font-size="8.2" text-anchor="middle" fill="#333" stroke="#333" stroke-width="0.12" textLength="61.5" lengthAdjust="spacingAndGlyphs" transform="rotate(-90 29.80 286.50)" >Survival probability</text>
<path d="M60.40 253.10 H79.50 V258.00 H86.60 V264.90 H190.00" fill="none" stroke="#f3c03a" stroke-width="1.1"/>
<line x1="73.20" y1="251.80" x2="73.20" y2="254.40" stroke="#f3c03a" stroke-width="0.9"/>
<line x1="83.30" y1="256.70" x2="83.30" y2="259.30" stroke="#f3c03a" stroke-width="0.9"/>
<line x1="96.00" y1="263.60" x2="96.00" y2="266.20" stroke="#f3c03a" stroke-width="0.9"/>
<line x1="101.00" y1="263.60" x2="101.00" y2="266.20" stroke="#f3c03a" stroke-width="0.9"/>
<line x1="106.00" y1="263.60" x2="106.00" y2="266.20" stroke="#f3c03a" stroke-width="0.9"/>
<line x1="111.50" y1="263.60" x2="111.50" y2="266.20" stroke="#f3c03a" stroke-width="0.9"/>
<line x1="118.00" y1="263.60" x2="118.00" y2="266.20" stroke="#f3c03a" stroke-width="0.9"/>
<line x1="139.00" y1="263.60" x2="139.00" y2="266.20" stroke="#f3c03a" stroke-width="0.9"/>
<line x1="168.00" y1="263.60" x2="168.00" y2="266.20" stroke="#f3c03a" stroke-width="0.9"/>
<path d="M61.00 253.10 H66.40 V258.00 H69.80 V263.20 H93.10 V269.50 H113.50 V279.30 H147.50" fill="none" stroke="#24518f" stroke-width="1.1"/>
<line x1="68.50" y1="256.70" x2="68.50" y2="259.30" stroke="#24518f" stroke-width="0.9"/>
<line x1="74.90" y1="261.90" x2="74.90" y2="264.50" stroke="#24518f" stroke-width="0.9"/>
<line x1="106.00" y1="268.20" x2="106.00" y2="270.80" stroke="#24518f" stroke-width="0.9"/>
<line x1="108.00" y1="268.20" x2="108.00" y2="270.80" stroke="#24518f" stroke-width="0.9"/>
<line x1="110.50" y1="268.20" x2="110.50" y2="270.80" stroke="#24518f" stroke-width="0.9"/>
<line x1="125.60" y1="278.00" x2="125.60" y2="280.60" stroke="#24518f" stroke-width="0.9"/>
<line x1="133.60" y1="278.00" x2="133.60" y2="280.60" stroke="#24518f" stroke-width="0.9"/>
<line x1="147.50" y1="278.00" x2="147.50" y2="280.60" stroke="#24518f" stroke-width="0.9"/>
<path d="M215.40 253.50 H217.02 V256.60 H218.64 V259.70 H220.27 V262.80 H221.89 V265.90 H223.51 V269.00 H225.13 V272.10 H226.76 V275.20 H228.38 V278.30 H230.00 V281.40 H248.00 V285.50 H258.40 V290.40 H308.30 V298.40 H328.50 V309.00 H343.40" fill="none" stroke="#f3c03a" stroke-width="1.1"/>
<line x1="262.00" y1="289.10" x2="262.00" y2="291.70" stroke="#f3c03a" stroke-width="0.9"/>
<line x1="268.00" y1="289.10" x2="268.00" y2="291.70" stroke="#f3c03a" stroke-width="0.9"/>
<line x1="284.00" y1="289.10" x2="284.00" y2="291.70" stroke="#f3c03a" stroke-width="0.9"/>
<line x1="305.00" y1="289.10" x2="305.00" y2="291.70" stroke="#f3c03a" stroke-width="0.9"/>
<line x1="320.00" y1="297.10" x2="320.00" y2="299.70" stroke="#f3c03a" stroke-width="0.9"/>
<path d="M215.40 253.50 H216.74 V256.77 H218.07 V260.05 H219.41 V263.32 H220.75 V266.60 H222.09 V269.88 H223.43 V273.15 H224.76 V276.43 H226.10 V279.70 H240.60 V284.90 H248.00 V297.40 H334.80" fill="none" stroke="#24518f" stroke-width="1.1"/>
<line x1="219.00" y1="258.75" x2="219.00" y2="261.35" stroke="#24518f" stroke-width="0.9"/>
<line x1="223.00" y1="268.57" x2="223.00" y2="271.18" stroke="#24518f" stroke-width="0.9"/>
<line x1="235.00" y1="278.40" x2="235.00" y2="281.00" stroke="#24518f" stroke-width="0.9"/>
<line x1="255.50" y1="296.10" x2="255.50" y2="298.70" stroke="#24518f" stroke-width="0.9"/>
<line x1="274.20" y1="296.10" x2="274.20" y2="298.70" stroke="#24518f" stroke-width="0.9"/>
<line x1="311.70" y1="296.10" x2="311.70" y2="298.70" stroke="#24518f" stroke-width="0.9"/>
<line x1="319.00" y1="296.10" x2="319.00" y2="298.70" stroke="#24518f" stroke-width="0.9"/>
<line x1="334.80" y1="296.10" x2="334.80" y2="298.70" stroke="#24518f" stroke-width="0.9"/>
<path d="M368.70 253.50 H369.38 V256.50 H370.05 V259.50 H370.72 V262.50 H371.40 V265.50 H373.10 V268.02 H374.80 V270.55 H376.50 V273.08 H378.20 V275.60 H380.62 V277.88 H383.04 V280.16 H385.46 V282.44 H387.88 V284.72 H390.30 V287.00 H405.00 V289.50 H411.80 V292.00 H414.50 V294.40 H417.00 V297.00 H420.50 V299.80 H437.30 V303.00 H456.00 V305.70 H469.20 V308.50 H473.80 V311.20 H486.20 V314.60 H497.30" fill="none" stroke="#f3c03a" stroke-width="1.1"/>
<line x1="395.00" y1="285.70" x2="395.00" y2="288.30" stroke="#f3c03a" stroke-width="0.9"/>
<line x1="404.00" y1="285.70" x2="404.00" y2="288.30" stroke="#f3c03a" stroke-width="0.9"/>
<line x1="425.00" y1="298.50" x2="425.00" y2="301.10" stroke="#f3c03a" stroke-width="0.9"/>
<line x1="432.00" y1="298.50" x2="432.00" y2="301.10" stroke="#f3c03a" stroke-width="0.9"/>
<path d="M369.00 253.40 H371.40 V254.50 H372.57 V257.07 H373.75 V259.65 H374.93 V262.23 H376.10 V264.80 H377.00 V267.73 H377.90 V270.67 H378.80 V273.60 H380.96 V276.16 H383.12 V278.72 H385.28 V281.28 H387.44 V283.84 H389.60 V286.40 H394.30 V288.40 H395.60 V291.70 H409.40 V295.80 H415.20 V300.20 H464.70 V310.80 H496.50" fill="none" stroke="#24518f" stroke-width="1.1"/>
<line x1="373.00" y1="255.77" x2="373.00" y2="258.38" stroke="#24518f" stroke-width="0.9"/>
<line x1="377.00" y1="266.43" x2="377.00" y2="269.03" stroke="#24518f" stroke-width="0.9"/>
<line x1="384.00" y1="277.42" x2="384.00" y2="280.02" stroke="#24518f" stroke-width="0.9"/>
<line x1="388.00" y1="282.54" x2="388.00" y2="285.14" stroke="#24518f" stroke-width="0.9"/>
<line x1="419.00" y1="298.90" x2="419.00" y2="301.50" stroke="#24518f" stroke-width="0.9"/>
<line x1="437.00" y1="298.90" x2="437.00" y2="301.50" stroke="#24518f" stroke-width="0.9"/>
<line x1="497.00" y1="309.50" x2="497.00" y2="312.10" stroke="#24518f" stroke-width="0.9"/>
<text x="54.80" y="361.10" font-size="7.4" text-anchor="start" fill="#222" stroke="#222" stroke-width="0.08" textLength="44" lengthAdjust="spacingAndGlyphs" >Number at risk</text>
<line x1="54.80" y1="366.00" x2="54.80" y2="388.10" stroke="#222" stroke-width="1.2"/>
<line x1="54.20" y1="387.50" x2="196.00" y2="387.50" stroke="#222" stroke-width="1.2"/>
<line x1="51.80" y1="369.90" x2="54.80" y2="369.90" stroke="#222" stroke-width="1"/>
<line x1="51.80" y1="382.50" x2="54.80" y2="382.50" stroke="#222" stroke-width="1"/>
<line x1="61.00" y1="387.50" x2="61.00" y2="390.50" stroke="#222" stroke-width="1"/>
<text x="61.00" y="399.50" font-size="6.6" text-anchor="middle" fill="#333" stroke="#333" stroke-width="0.12" textLength="3.7" lengthAdjust="spacingAndGlyphs" >0</text>
<text x="61.00" y="372.50" font-size="6.6" text-anchor="middle" fill="#333" stroke="#333" stroke-width="0.12" textLength="7.4" lengthAdjust="spacingAndGlyphs" >16</text>
<text x="61.00" y="384.80" font-size="6.6" text-anchor="middle" fill="#333" stroke="#333" stroke-width="0.12" textLength="7.4" lengthAdjust="spacingAndGlyphs" >16</text>
<line x1="103.77" y1="387.50" x2="103.77" y2="390.50" stroke="#222" stroke-width="1"/>
<text x="103.77" y="399.50" font-size="6.6" text-anchor="middle" fill="#333" stroke="#333" stroke-width="0.12" textLength="7.4" lengthAdjust="spacingAndGlyphs" >50</text>
<text x="103.77" y="372.50" font-size="6.6" text-anchor="middle" fill="#333" stroke="#333" stroke-width="0.12" textLength="3.7" lengthAdjust="spacingAndGlyphs" >9</text>
<text x="103.77" y="384.80" font-size="6.6" text-anchor="middle" fill="#333" stroke="#333" stroke-width="0.12" textLength="3.7" lengthAdjust="spacingAndGlyphs" >8</text>
<line x1="146.53" y1="387.50" x2="146.53" y2="390.50" stroke="#222" stroke-width="1"/>
<text x="146.53" y="399.50" font-size="6.6" text-anchor="middle" fill="#333" stroke="#333" stroke-width="0.12" textLength="11.100000000000001" lengthAdjust="spacingAndGlyphs" >100</text>
<text x="146.53" y="372.50" font-size="6.6" text-anchor="middle" fill="#333" stroke="#333" stroke-width="0.12" textLength="3.7" lengthAdjust="spacingAndGlyphs" >1</text>
<text x="146.53" y="384.80" font-size="6.6" text-anchor="middle" fill="#333" stroke="#333" stroke-width="0.12" textLength="3.7" lengthAdjust="spacingAndGlyphs" >3</text>
<line x1="189.29" y1="387.50" x2="189.29" y2="390.50" stroke="#222" stroke-width="1"/>
<text x="189.29" y="399.50" font-size="6.6" text-anchor="middle" fill="#333" stroke="#333" stroke-width="0.12" textLength="11.100000000000001" lengthAdjust="spacingAndGlyphs" >150</text>
<text x="189.29" y="372.50" font-size="6.6" text-anchor="middle" fill="#333" stroke="#333" stroke-width="0.12" textLength="3.7" lengthAdjust="spacingAndGlyphs" >0</text>
<text x="189.29" y="384.80" font-size="6.6" text-anchor="middle" fill="#333" stroke="#333" stroke-width="0.12" textLength="3.7" lengthAdjust="spacingAndGlyphs" >2</text>
<text x="125.15" y="412.10" font-size="9.4" text-anchor="middle" fill="#333" stroke="#333" stroke-width="0.08" textLength="14.8" lengthAdjust="spacingAndGlyphs" >Time</text>
<text x="48.00" y="369.30" font-size="7" text-anchor="end" fill="#2f5fa3" stroke="#2f5fa3" stroke-width="0.12" textLength="40.7" lengthAdjust="spacingAndGlyphs" >post-AA/PNH</text>
<text x="48.00" y="376.20" font-size="7" text-anchor="end" fill="#2f5fa3" stroke="#2f5fa3" stroke-width="0.12" textLength="14.3" lengthAdjust="spacingAndGlyphs" >MDS</text>
<text x="47.70" y="384.60" font-size="7" text-anchor="end" fill="#f0bd3a" stroke="#f0bd3a" stroke-width="0.12" textLength="23.7" lengthAdjust="spacingAndGlyphs" >de novo</text>
<text x="208.60" y="361.10" font-size="7.4" text-anchor="start" fill="#222" stroke="#222" stroke-width="0.08" textLength="44" lengthAdjust="spacingAndGlyphs" >Number at risk</text>
<line x1="208.60" y1="366.00" x2="208.60" y2="388.10" stroke="#222" stroke-width="1.2"/>
<line x1="208.00" y1="387.50" x2="350.00" y2="387.50" stroke="#222" stroke-width="1.2"/>
<line x1="205.60" y1="369.90" x2="208.60" y2="369.90" stroke="#222" stroke-width="1"/>
<line x1="205.60" y1="382.50" x2="208.60" y2="382.50" stroke="#222" stroke-width="1"/>
<line x1="215.30" y1="387.50" x2="215.30" y2="390.50" stroke="#222" stroke-width="1"/>
<text x="215.30" y="399.50" font-size="6.6" text-anchor="middle" fill="#333" stroke="#333" stroke-width="0.12" textLength="3.7" lengthAdjust="spacingAndGlyphs" >0</text>
<text x="215.30" y="372.50" font-size="6.6" text-anchor="middle" fill="#333" stroke="#333" stroke-width="0.12" textLength="7.4" lengthAdjust="spacingAndGlyphs" >20</text>
<text x="215.30" y="384.80" font-size="6.6" text-anchor="middle" fill="#333" stroke="#333" stroke-width="0.12" textLength="7.4" lengthAdjust="spacingAndGlyphs" >20</text>
<line x1="258.10" y1="387.50" x2="258.10" y2="390.50" stroke="#222" stroke-width="1"/>
<text x="258.10" y="399.50" font-size="6.6" text-anchor="middle" fill="#333" stroke="#333" stroke-width="0.12" textLength="7.4" lengthAdjust="spacingAndGlyphs" >50</text>
<text x="258.10" y="372.50" font-size="6.6" text-anchor="middle" fill="#333" stroke="#333" stroke-width="0.12" textLength="3.7" lengthAdjust="spacingAndGlyphs" >3</text>
<text x="258.10" y="384.80" font-size="6.6" text-anchor="middle" fill="#333" stroke="#333" stroke-width="0.12" textLength="3.7" lengthAdjust="spacingAndGlyphs" >8</text>
<line x1="300.90" y1="387.50" x2="300.90" y2="390.50" stroke="#222" stroke-width="1"/>
<text x="300.90" y="399.50" font-size="6.6" text-anchor="middle" fill="#333" stroke="#333" stroke-width="0.12" textLength="11.100000000000001" lengthAdjust="spacingAndGlyphs" >100</text>
<text x="300.90" y="372.50" font-size="6.6" text-anchor="middle" fill="#333" stroke="#333" stroke-width="0.12" textLength="3.7" lengthAdjust="spacingAndGlyphs" >2</text>
<text x="300.90" y="384.80" font-size="6.6" text-anchor="middle" fill="#333" stroke="#333" stroke-width="0.12" textLength="3.7" lengthAdjust="spacingAndGlyphs" >4</text>
<line x1="343.70" y1="387.50" x2="343.70" y2="390.50" stroke="#222" stroke-width="1"/>
<text x="343.70" y="399.50" font-size="6.6" text-anchor="middle" fill="#333" stroke="#333" stroke-width="0.12" textLength="11.100000000000001" lengthAdjust="spacingAndGlyphs" >150</text>
<text x="343.70" y="372.50" font-size="6.6" text-anchor="middle" fill="#333" stroke="#333" stroke-width="0.12" textLength="3.7" lengthAdjust="spacingAndGlyphs" >0</text>
<text x="343.70" y="384.80" font-size="6.6" text-anchor="middle" fill="#333" stroke="#333" stroke-width="0.12" textLength="3.7" lengthAdjust="spacingAndGlyphs" >1</text>
<text x="279.50" y="412.10" font-size="9.4" text-anchor="middle" fill="#333" stroke="#333" stroke-width="0.08" textLength="14.8" lengthAdjust="spacingAndGlyphs" >Time</text>
<text x="362.50" y="361.10" font-size="7.4" text-anchor="start" fill="#222" stroke="#222" stroke-width="0.08" textLength="44" lengthAdjust="spacingAndGlyphs" >Number at risk</text>
<line x1="362.50" y1="366.00" x2="362.50" y2="388.10" stroke="#222" stroke-width="1.2"/>
<line x1="361.90" y1="387.50" x2="503.70" y2="387.50" stroke="#222" stroke-width="1.2"/>
<line x1="359.50" y1="369.90" x2="362.50" y2="369.90" stroke="#222" stroke-width="1"/>
<line x1="359.50" y1="382.50" x2="362.50" y2="382.50" stroke="#222" stroke-width="1"/>
<line x1="369.00" y1="387.50" x2="369.00" y2="390.50" stroke="#222" stroke-width="1"/>
<text x="369.00" y="399.50" font-size="6.6" text-anchor="middle" fill="#333" stroke="#333" stroke-width="0.12" textLength="3.7" lengthAdjust="spacingAndGlyphs" >0</text>
<text x="369.00" y="372.50" font-size="6.6" text-anchor="middle" fill="#333" stroke="#333" stroke-width="0.12" textLength="7.4" lengthAdjust="spacingAndGlyphs" >33</text>
<text x="369.00" y="384.80" font-size="6.6" text-anchor="middle" fill="#333" stroke="#333" stroke-width="0.12" textLength="7.4" lengthAdjust="spacingAndGlyphs" >33</text>
<line x1="411.76" y1="387.50" x2="411.76" y2="390.50" stroke="#222" stroke-width="1"/>
<text x="411.76" y="399.50" font-size="6.6" text-anchor="middle" fill="#333" stroke="#333" stroke-width="0.12" textLength="7.4" lengthAdjust="spacingAndGlyphs" >50</text>
<text x="411.76" y="372.50" font-size="6.6" text-anchor="middle" fill="#333" stroke="#333" stroke-width="0.12" textLength="3.7" lengthAdjust="spacingAndGlyphs" >6</text>
<text x="411.76" y="384.80" font-size="6.6" text-anchor="middle" fill="#333" stroke="#333" stroke-width="0.12" textLength="7.4" lengthAdjust="spacingAndGlyphs" >12</text>
<line x1="454.53" y1="387.50" x2="454.53" y2="390.50" stroke="#222" stroke-width="1"/>
<text x="454.53" y="399.50" font-size="6.6" text-anchor="middle" fill="#333" stroke="#333" stroke-width="0.12" textLength="11.100000000000001" lengthAdjust="spacingAndGlyphs" >100</text>
<text x="454.53" y="372.50" font-size="6.6" text-anchor="middle" fill="#333" stroke="#333" stroke-width="0.12" textLength="3.7" lengthAdjust="spacingAndGlyphs" >2</text>
<text x="454.53" y="384.80" font-size="6.6" text-anchor="middle" fill="#333" stroke="#333" stroke-width="0.12" textLength="3.7" lengthAdjust="spacingAndGlyphs" >6</text>
<line x1="497.29" y1="387.50" x2="497.29" y2="390.50" stroke="#222" stroke-width="1"/>
<text x="497.29" y="399.50" font-size="6.6" text-anchor="middle" fill="#333" stroke="#333" stroke-width="0.12" textLength="11.100000000000001" lengthAdjust="spacingAndGlyphs" >150</text>
<text x="497.29" y="372.50" font-size="6.6" text-anchor="middle" fill="#333" stroke="#333" stroke-width="0.12" textLength="3.7" lengthAdjust="spacingAndGlyphs" >1</text>
<text x="497.29" y="384.80" font-size="6.6" text-anchor="middle" fill="#333" stroke="#333" stroke-width="0.12" textLength="3.7" lengthAdjust="spacingAndGlyphs" >1</text>
<text x="433.15" y="412.10" font-size="9.4" text-anchor="middle" fill="#333" stroke="#333" stroke-width="0.08" textLength="14.8" lengthAdjust="spacingAndGlyphs" >Time</text>
<line x1="54.60" y1="446.00" x2="54.60" y2="523.80" stroke="#222" stroke-width="1.2"/>
<line x1="54.00" y1="523.20" x2="200.50" y2="523.20" stroke="#222" stroke-width="1.2"/>
<line x1="51.60" y1="519.80" x2="54.60" y2="519.80" stroke="#222" stroke-width="1"/>
<text x="48.10" y="522.30" font-size="7.1" text-anchor="end" fill="#3a3a3a" stroke="#3a3a3a" stroke-width="0.08" textLength="12.9" lengthAdjust="spacingAndGlyphs" >0.00</text>
<line x1="51.60" y1="502.22" x2="54.60" y2="502.22" stroke="#222" stroke-width="1"/>
<text x="48.10" y="504.72" font-size="7.1" text-anchor="end" fill="#3a3a3a" stroke="#3a3a3a" stroke-width="0.08" textLength="12.9" lengthAdjust="spacingAndGlyphs" >0.25</text>
<line x1="51.60" y1="484.65" x2="54.60" y2="484.65" stroke="#222" stroke-width="1"/>
<text x="48.10" y="487.15" font-size="7.1" text-anchor="end" fill="#3a3a3a" stroke="#3a3a3a" stroke-width="0.08" textLength="12.9" lengthAdjust="spacingAndGlyphs" >0.50</text>
<line x1="51.60" y1="467.07" x2="54.60" y2="467.07" stroke="#222" stroke-width="1"/>
<text x="48.10" y="469.57" font-size="7.1" text-anchor="end" fill="#3a3a3a" stroke="#3a3a3a" stroke-width="0.08" textLength="12.9" lengthAdjust="spacingAndGlyphs" >0.75</text>
<line x1="51.60" y1="449.50" x2="54.60" y2="449.50" stroke="#222" stroke-width="1"/>
<text x="48.10" y="452.00" font-size="7.1" text-anchor="end" fill="#3a3a3a" stroke="#3a3a3a" stroke-width="0.08" textLength="12.9" lengthAdjust="spacingAndGlyphs" >1.00</text>
<line x1="61.00" y1="523.20" x2="61.00" y2="526.20" stroke="#222" stroke-width="1"/>
<text x="61.00" y="535.20" font-size="6.6" text-anchor="middle" fill="#333" stroke="#333" stroke-width="0.12" textLength="3.4040000000000004" lengthAdjust="spacingAndGlyphs" >0</text>
<line x1="105.47" y1="523.20" x2="105.47" y2="526.20" stroke="#222" stroke-width="1"/>
<text x="105.47" y="535.20" font-size="6.6" text-anchor="middle" fill="#333" stroke="#333" stroke-width="0.12" textLength="6.808000000000001" lengthAdjust="spacingAndGlyphs" >50</text>
<line x1="149.93" y1="523.20" x2="149.93" y2="526.20" stroke="#222" stroke-width="1"/>
<text x="149.93" y="535.20" font-size="6.6" text-anchor="middle" fill="#333" stroke="#333" stroke-width="0.12" textLength="10.212000000000002" lengthAdjust="spacingAndGlyphs" >100</text>
<line x1="194.40" y1="523.20" x2="194.40" y2="526.20" stroke="#222" stroke-width="1"/>
<text x="194.40" y="535.20" font-size="6.6" text-anchor="middle" fill="#333" stroke="#333" stroke-width="0.12" textLength="10.212000000000002" lengthAdjust="spacingAndGlyphs" >150</text>
<text x="127.70" y="547.80" font-size="9.4" text-anchor="middle" fill="#333" stroke="#333" stroke-width="0.08" textLength="13.616000000000001" lengthAdjust="spacingAndGlyphs" >Time</text>
<text x="61.70" y="508.00" font-size="6.8" text-anchor="start" fill="#333" stroke="#333" stroke-width="0.12" textLength="17.5" lengthAdjust="spacingAndGlyphs" ><tspan font-style="italic">P</tspan> = .2</text>
<line x1="208.60" y1="446.00" x2="208.60" y2="523.80" stroke="#222" stroke-width="1.2"/>
<line x1="208.00" y1="523.20" x2="355.00" y2="523.20" stroke="#222" stroke-width="1.2"/>
<line x1="205.60" y1="519.80" x2="208.60" y2="519.80" stroke="#222" stroke-width="1"/>
<line x1="205.60" y1="502.22" x2="208.60" y2="502.22" stroke="#222" stroke-width="1"/>
<line x1="205.60" y1="484.65" x2="208.60" y2="484.65" stroke="#222" stroke-width="1"/>
<line x1="205.60" y1="467.07" x2="208.60" y2="467.07" stroke="#222" stroke-width="1"/>
<line x1="205.60" y1="449.50" x2="208.60" y2="449.50" stroke="#222" stroke-width="1"/>
<line x1="215.50" y1="523.20" x2="215.50" y2="526.20" stroke="#222" stroke-width="1"/>
<text x="215.50" y="535.20" font-size="6.6" text-anchor="middle" fill="#333" stroke="#333" stroke-width="0.12" textLength="3.4040000000000004" lengthAdjust="spacingAndGlyphs" >0</text>
<line x1="259.83" y1="523.20" x2="259.83" y2="526.20" stroke="#222" stroke-width="1"/>
<text x="259.83" y="535.20" font-size="6.6" text-anchor="middle" fill="#333" stroke="#333" stroke-width="0.12" textLength="6.808000000000001" lengthAdjust="spacingAndGlyphs" >50</text>
<line x1="304.17" y1="523.20" x2="304.17" y2="526.20" stroke="#222" stroke-width="1"/>
<text x="304.17" y="535.20" font-size="6.6" text-anchor="middle" fill="#333" stroke="#333" stroke-width="0.12" textLength="10.212000000000002" lengthAdjust="spacingAndGlyphs" >100</text>
<line x1="348.50" y1="523.20" x2="348.50" y2="526.20" stroke="#222" stroke-width="1"/>
<text x="348.50" y="535.20" font-size="6.6" text-anchor="middle" fill="#333" stroke="#333" stroke-width="0.12" textLength="10.212000000000002" lengthAdjust="spacingAndGlyphs" >150</text>
<text x="282.00" y="547.80" font-size="9.4" text-anchor="middle" fill="#333" stroke="#333" stroke-width="0.08" textLength="13.616000000000001" lengthAdjust="spacingAndGlyphs" >Time</text>
<text x="215.50" y="508.30" font-size="6.8" text-anchor="start" fill="#333" stroke="#333" stroke-width="0.12" textLength="21" lengthAdjust="spacingAndGlyphs" ><tspan font-style="italic">P</tspan> = .34</text>
<line x1="362.60" y1="446.00" x2="362.60" y2="523.80" stroke="#222" stroke-width="1.2"/>
<line x1="362.00" y1="523.20" x2="508.00" y2="523.20" stroke="#222" stroke-width="1.2"/>
<line x1="359.60" y1="519.80" x2="362.60" y2="519.80" stroke="#222" stroke-width="1"/>
<line x1="359.60" y1="502.22" x2="362.60" y2="502.22" stroke="#222" stroke-width="1"/>
<line x1="359.60" y1="484.65" x2="362.60" y2="484.65" stroke="#222" stroke-width="1"/>
<line x1="359.60" y1="467.07" x2="362.60" y2="467.07" stroke="#222" stroke-width="1"/>
<line x1="359.60" y1="449.50" x2="362.60" y2="449.50" stroke="#222" stroke-width="1"/>
<line x1="369.50" y1="523.20" x2="369.50" y2="526.20" stroke="#222" stroke-width="1"/>
<text x="369.50" y="535.20" font-size="6.6" text-anchor="middle" fill="#333" stroke="#333" stroke-width="0.12" textLength="3.4040000000000004" lengthAdjust="spacingAndGlyphs" >0</text>
<line x1="413.75" y1="523.20" x2="413.75" y2="526.20" stroke="#222" stroke-width="1"/>
<text x="413.75" y="535.20" font-size="6.6" text-anchor="middle" fill="#333" stroke="#333" stroke-width="0.12" textLength="6.808000000000001" lengthAdjust="spacingAndGlyphs" >50</text>
<line x1="458.00" y1="523.20" x2="458.00" y2="526.20" stroke="#222" stroke-width="1"/>
<text x="458.00" y="535.20" font-size="6.6" text-anchor="middle" fill="#333" stroke="#333" stroke-width="0.12" textLength="10.212000000000002" lengthAdjust="spacingAndGlyphs" >100</text>
<line x1="502.25" y1="523.20" x2="502.25" y2="526.20" stroke="#222" stroke-width="1"/>
<text x="502.25" y="535.20" font-size="6.6" text-anchor="middle" fill="#333" stroke="#333" stroke-width="0.12" textLength="10.212000000000002" lengthAdjust="spacingAndGlyphs" >150</text>
<text x="435.88" y="547.80" font-size="9.4" text-anchor="middle" fill="#333" stroke="#333" stroke-width="0.08" textLength="13.616000000000001" lengthAdjust="spacingAndGlyphs" >Time</text>
<text x="368.80" y="508.00" font-size="6.8" text-anchor="start" fill="#333" stroke="#333" stroke-width="0.12" textLength="21" lengthAdjust="spacingAndGlyphs" ><tspan font-style="italic">P</tspan> = .38</text>
<text x="30.00" y="484.00" font-size="8.2" text-anchor="middle" fill="#333" stroke="#333" stroke-width="0.12" textLength="60" lengthAdjust="spacingAndGlyphs" transform="rotate(-90 30.00 484.00)" >Survival probability</text>
<path d="M60.30 449.20 H61.00 V453.60 H195.70" fill="none" stroke="#f3c03a" stroke-width="1.1"/>
<line x1="80.00" y1="452.30" x2="80.00" y2="454.90" stroke="#f3c03a" stroke-width="0.9"/>
<line x1="95.00" y1="452.30" x2="95.00" y2="454.90" stroke="#f3c03a" stroke-width="0.9"/>
<line x1="110.00" y1="452.30" x2="110.00" y2="454.90" stroke="#f3c03a" stroke-width="0.9"/>
<line x1="125.00" y1="452.30" x2="125.00" y2="454.90" stroke="#f3c03a" stroke-width="0.9"/>
<line x1="140.00" y1="452.30" x2="140.00" y2="454.90" stroke="#f3c03a" stroke-width="0.9"/>
<line x1="160.00" y1="452.30" x2="160.00" y2="454.90" stroke="#f3c03a" stroke-width="0.9"/>
<line x1="175.00" y1="452.30" x2="175.00" y2="454.90" stroke="#f3c03a" stroke-width="0.9"/>
<path d="M61.00 449.20 H66.70 V453.60 H70.20 V459.60 H94.70 V466.00 H116.30 V476.60 H151.00" fill="none" stroke="#24518f" stroke-width="1.1"/>
<line x1="73.00" y1="458.30" x2="73.00" y2="460.90" stroke="#24518f" stroke-width="0.9"/>
<line x1="106.20" y1="464.70" x2="106.20" y2="467.30" stroke="#24518f" stroke-width="0.9"/>
<line x1="109.00" y1="464.70" x2="109.00" y2="467.30" stroke="#24518f" stroke-width="0.9"/>
<line x1="112.00" y1="464.70" x2="112.00" y2="467.30" stroke="#24518f" stroke-width="0.9"/>
<line x1="127.90" y1="475.30" x2="127.90" y2="477.90" stroke="#24518f" stroke-width="0.9"/>
<line x1="136.50" y1="475.30" x2="136.50" y2="477.90" stroke="#24518f" stroke-width="0.9"/>
<line x1="151.00" y1="475.30" x2="151.00" y2="477.90" stroke="#24518f" stroke-width="0.9"/>
<path d="M215.50 450.00 H216.94 V452.53 H218.39 V455.07 H219.83 V457.60 H221.28 V460.13 H222.72 V462.67 H224.17 V465.20 H225.61 V467.73 H227.06 V470.27 H228.50 V472.80 H283.50 V481.80 H314.60 V494.80 H347.80" fill="none" stroke="#f3c03a" stroke-width="1.1"/>
<line x1="250.00" y1="471.50" x2="250.00" y2="474.10" stroke="#f3c03a" stroke-width="0.9"/>
<line x1="265.00" y1="471.50" x2="265.00" y2="474.10" stroke="#f3c03a" stroke-width="0.9"/>
<line x1="275.00" y1="471.50" x2="275.00" y2="474.10" stroke="#f3c03a" stroke-width="0.9"/>
<line x1="290.00" y1="480.50" x2="290.00" y2="483.10" stroke="#f3c03a" stroke-width="0.9"/>
<line x1="325.00" y1="493.50" x2="325.00" y2="496.10" stroke="#f3c03a" stroke-width="0.9"/>
<path d="M216.00 450.00 H217.34 V453.43 H218.68 V456.85 H220.01 V460.27 H221.35 V463.70 H222.69 V467.12 H224.02 V470.55 H225.36 V473.97 H226.70 V477.40 H241.40 V482.60 H249.80 V495.30 H339.00" fill="none" stroke="#24518f" stroke-width="1.1"/>
<line x1="225.00" y1="469.25" x2="225.00" y2="471.85" stroke="#24518f" stroke-width="0.9"/>
<line x1="238.00" y1="476.10" x2="238.00" y2="478.70" stroke="#24518f" stroke-width="0.9"/>
<line x1="258.00" y1="494.00" x2="258.00" y2="496.60" stroke="#24518f" stroke-width="0.9"/>
<line x1="275.70" y1="494.00" x2="275.70" y2="496.60" stroke="#24518f" stroke-width="0.9"/>
<line x1="323.30" y1="494.00" x2="323.30" y2="496.60" stroke="#24518f" stroke-width="0.9"/>
<line x1="339.00" y1="494.00" x2="339.00" y2="496.60" stroke="#24518f" stroke-width="0.9"/>
<path d="M369.40 450.00 H370.48 V453.52 H371.56 V457.04 H372.64 V460.56 H373.72 V464.08 H374.80 V467.60 H376.37 V470.07 H377.93 V472.53 H379.50 V475.00 H381.18 V476.85 H382.85 V478.70 H384.52 V480.55 H386.20 V482.40 H405.70 V486.40 H415.80 V491.10 H468.20 V500.60 H492.10" fill="none" stroke="#f3c03a" stroke-width="1.1"/>
<line x1="392.00" y1="481.10" x2="392.00" y2="483.70" stroke="#f3c03a" stroke-width="0.9"/>
<line x1="422.00" y1="489.80" x2="422.00" y2="492.40" stroke="#f3c03a" stroke-width="0.9"/>
<line x1="460.00" y1="489.80" x2="460.00" y2="492.40" stroke="#f3c03a" stroke-width="0.9"/>
<line x1="475.00" y1="499.30" x2="475.00" y2="501.90" stroke="#f3c03a" stroke-width="0.9"/>
<path d="M369.40 450.00 H370.30 V453.27 H371.20 V456.53 H372.10 V459.80 H373.00 V463.07 H373.90 V466.33 H374.80 V469.60 H376.37 V472.50 H377.93 V475.40 H379.50 V478.30 H381.53 V479.87 H383.57 V481.43 H385.60 V483.00 H387.00 V486.00 H388.30 V489.50 H389.60 V493.10 H396.30 V496.50 H411.80 V500.50 H468.20 V509.80 H502.20" fill="none" stroke="#24518f" stroke-width="1.1"/>
<line x1="374.00" y1="465.03" x2="374.00" y2="467.63" stroke="#24518f" stroke-width="0.9"/>
<line x1="380.00" y1="477.00" x2="380.00" y2="479.60" stroke="#24518f" stroke-width="0.9"/>
<line x1="408.00" y1="495.20" x2="408.00" y2="497.80" stroke="#24518f" stroke-width="0.9"/>
<line x1="426.00" y1="499.20" x2="426.00" y2="501.80" stroke="#24518f" stroke-width="0.9"/>
<line x1="441.00" y1="499.20" x2="441.00" y2="501.80" stroke="#24518f" stroke-width="0.9"/>
<line x1="443.00" y1="499.20" x2="443.00" y2="501.80" stroke="#24518f" stroke-width="0.9"/>
<line x1="502.00" y1="508.50" x2="502.00" y2="511.10" stroke="#24518f" stroke-width="0.9"/>
<text x="54.50" y="557.90" font-size="7.4" text-anchor="start" fill="#222" stroke="#222" stroke-width="0.08" textLength="44" lengthAdjust="spacingAndGlyphs" >Number at risk</text>
<line x1="54.50" y1="563.10" x2="54.50" y2="585.10" stroke="#222" stroke-width="1.2"/>
<line x1="53.90" y1="584.50" x2="200.50" y2="584.50" stroke="#222" stroke-width="1.2"/>
<line x1="51.50" y1="567.00" x2="54.50" y2="567.00" stroke="#222" stroke-width="1"/>
<line x1="51.50" y1="579.50" x2="54.50" y2="579.50" stroke="#222" stroke-width="1"/>
<line x1="61.00" y1="584.50" x2="61.00" y2="587.50" stroke="#222" stroke-width="1"/>
<text x="61.00" y="596.50" font-size="6.6" text-anchor="middle" fill="#333" stroke="#333" stroke-width="0.12" textLength="3.4040000000000004" lengthAdjust="spacingAndGlyphs" >0</text>
<text x="61.00" y="569.60" font-size="6.6" text-anchor="middle" fill="#333" stroke="#333" stroke-width="0.12" textLength="6.808000000000001" lengthAdjust="spacingAndGlyphs" >16</text>
<text x="61.00" y="581.80" font-size="6.6" text-anchor="middle" fill="#333" stroke="#333" stroke-width="0.12" textLength="6.808000000000001" lengthAdjust="spacingAndGlyphs" >16</text>
<line x1="105.47" y1="584.50" x2="105.47" y2="587.50" stroke="#222" stroke-width="1"/>
<text x="105.47" y="596.50" font-size="6.6" text-anchor="middle" fill="#333" stroke="#333" stroke-width="0.12" textLength="6.808000000000001" lengthAdjust="spacingAndGlyphs" >50</text>
<text x="105.47" y="569.60" font-size="6.6" text-anchor="middle" fill="#333" stroke="#333" stroke-width="0.12" textLength="3.4040000000000004" lengthAdjust="spacingAndGlyphs" >9</text>
<text x="105.47" y="581.80" font-size="6.6" text-anchor="middle" fill="#333" stroke="#333" stroke-width="0.12" textLength="3.4040000000000004" lengthAdjust="spacingAndGlyphs" >7</text>
<line x1="149.93" y1="584.50" x2="149.93" y2="587.50" stroke="#222" stroke-width="1"/>
<text x="149.93" y="596.50" font-size="6.6" text-anchor="middle" fill="#333" stroke="#333" stroke-width="0.12" textLength="10.212000000000002" lengthAdjust="spacingAndGlyphs" >100</text>
<text x="149.93" y="569.60" font-size="6.6" text-anchor="middle" fill="#333" stroke="#333" stroke-width="0.12" textLength="3.4040000000000004" lengthAdjust="spacingAndGlyphs" >1</text>
<text x="149.93" y="581.80" font-size="6.6" text-anchor="middle" fill="#333" stroke="#333" stroke-width="0.12" textLength="3.4040000000000004" lengthAdjust="spacingAndGlyphs" >2</text>
<line x1="194.40" y1="584.50" x2="194.40" y2="587.50" stroke="#222" stroke-width="1"/>
<text x="194.40" y="596.50" font-size="6.6" text-anchor="middle" fill="#333" stroke="#333" stroke-width="0.12" textLength="10.212000000000002" lengthAdjust="spacingAndGlyphs" >150</text>
<text x="194.40" y="569.60" font-size="6.6" text-anchor="middle" fill="#333" stroke="#333" stroke-width="0.12" textLength="3.4040000000000004" lengthAdjust="spacingAndGlyphs" >0</text>
<text x="194.40" y="581.80" font-size="6.6" text-anchor="middle" fill="#333" stroke="#333" stroke-width="0.12" textLength="3.4040000000000004" lengthAdjust="spacingAndGlyphs" >2</text>
<text x="127.70" y="609.10" font-size="9.4" text-anchor="middle" fill="#333" stroke="#333" stroke-width="0.08" textLength="13.616000000000001" lengthAdjust="spacingAndGlyphs" >Time</text>
<text x="48.00" y="565.60" font-size="7" text-anchor="end" fill="#2f5fa3" stroke="#2f5fa3" stroke-width="0.12" textLength="40.7" lengthAdjust="spacingAndGlyphs" >post-AA/PNH</text>
<text x="48.00" y="572.82" font-size="7" text-anchor="end" fill="#2f5fa3" stroke="#2f5fa3" stroke-width="0.12" textLength="14.3" lengthAdjust="spacingAndGlyphs" >MDS</text>
<text x="47.70" y="581.60" font-size="7" text-anchor="end" fill="#f0bd3a" stroke="#f0bd3a" stroke-width="0.12" textLength="23.7" lengthAdjust="spacingAndGlyphs" >de novo</text>
<text x="208.50" y="557.90" font-size="7.4" text-anchor="start" fill="#222" stroke="#222" stroke-width="0.08" textLength="44" lengthAdjust="spacingAndGlyphs" >Number at risk</text>
<line x1="208.50" y1="563.10" x2="208.50" y2="585.10" stroke="#222" stroke-width="1.2"/>
<line x1="207.90" y1="584.50" x2="355.00" y2="584.50" stroke="#222" stroke-width="1.2"/>
<line x1="205.50" y1="567.00" x2="208.50" y2="567.00" stroke="#222" stroke-width="1"/>
<line x1="205.50" y1="579.50" x2="208.50" y2="579.50" stroke="#222" stroke-width="1"/>
<line x1="215.50" y1="584.50" x2="215.50" y2="587.50" stroke="#222" stroke-width="1"/>
<text x="215.50" y="596.50" font-size="6.6" text-anchor="middle" fill="#333" stroke="#333" stroke-width="0.12" textLength="3.4040000000000004" lengthAdjust="spacingAndGlyphs" >0</text>
<text x="215.50" y="569.60" font-size="6.6" text-anchor="middle" fill="#333" stroke="#333" stroke-width="0.12" textLength="6.808000000000001" lengthAdjust="spacingAndGlyphs" >20</text>
<text x="215.50" y="581.80" font-size="6.6" text-anchor="middle" fill="#333" stroke="#333" stroke-width="0.12" textLength="6.808000000000001" lengthAdjust="spacingAndGlyphs" >20</text>
<line x1="259.83" y1="584.50" x2="259.83" y2="587.50" stroke="#222" stroke-width="1"/>
<text x="259.83" y="596.50" font-size="6.6" text-anchor="middle" fill="#333" stroke="#333" stroke-width="0.12" textLength="6.808000000000001" lengthAdjust="spacingAndGlyphs" >50</text>
<text x="259.83" y="569.60" font-size="6.6" text-anchor="middle" fill="#333" stroke="#333" stroke-width="0.12" textLength="3.4040000000000004" lengthAdjust="spacingAndGlyphs" >3</text>
<text x="259.83" y="581.80" font-size="6.6" text-anchor="middle" fill="#333" stroke="#333" stroke-width="0.12" textLength="3.4040000000000004" lengthAdjust="spacingAndGlyphs" >8</text>
<line x1="304.17" y1="584.50" x2="304.17" y2="587.50" stroke="#222" stroke-width="1"/>
<text x="304.17" y="596.50" font-size="6.6" text-anchor="middle" fill="#333" stroke="#333" stroke-width="0.12" textLength="10.212000000000002" lengthAdjust="spacingAndGlyphs" >100</text>
<text x="304.17" y="569.60" font-size="6.6" text-anchor="middle" fill="#333" stroke="#333" stroke-width="0.12" textLength="3.4040000000000004" lengthAdjust="spacingAndGlyphs" >2</text>
<text x="304.17" y="581.80" font-size="6.6" text-anchor="middle" fill="#333" stroke="#333" stroke-width="0.12" textLength="3.4040000000000004" lengthAdjust="spacingAndGlyphs" >3</text>
<line x1="348.50" y1="584.50" x2="348.50" y2="587.50" stroke="#222" stroke-width="1"/>
<text x="348.50" y="596.50" font-size="6.6" text-anchor="middle" fill="#333" stroke="#333" stroke-width="0.12" textLength="10.212000000000002" lengthAdjust="spacingAndGlyphs" >150</text>
<text x="348.50" y="569.60" font-size="6.6" text-anchor="middle" fill="#333" stroke="#333" stroke-width="0.12" textLength="3.4040000000000004" lengthAdjust="spacingAndGlyphs" >0</text>
<text x="348.50" y="581.80" font-size="6.6" text-anchor="middle" fill="#333" stroke="#333" stroke-width="0.12" textLength="3.4040000000000004" lengthAdjust="spacingAndGlyphs" >1</text>
<text x="282.00" y="609.10" font-size="9.4" text-anchor="middle" fill="#333" stroke="#333" stroke-width="0.08" textLength="13.616000000000001" lengthAdjust="spacingAndGlyphs" >Time</text>
<text x="362.60" y="557.90" font-size="7.4" text-anchor="start" fill="#222" stroke="#222" stroke-width="0.08" textLength="44" lengthAdjust="spacingAndGlyphs" >Number at risk</text>
<line x1="362.60" y1="563.10" x2="362.60" y2="585.10" stroke="#222" stroke-width="1.2"/>
<line x1="362.00" y1="584.50" x2="508.00" y2="584.50" stroke="#222" stroke-width="1.2"/>
<line x1="359.60" y1="567.00" x2="362.60" y2="567.00" stroke="#222" stroke-width="1"/>
<line x1="359.60" y1="579.50" x2="362.60" y2="579.50" stroke="#222" stroke-width="1"/>
<line x1="369.50" y1="584.50" x2="369.50" y2="587.50" stroke="#222" stroke-width="1"/>
<text x="369.50" y="596.50" font-size="6.6" text-anchor="middle" fill="#333" stroke="#333" stroke-width="0.12" textLength="3.4040000000000004" lengthAdjust="spacingAndGlyphs" >0</text>
<text x="369.50" y="569.60" font-size="6.6" text-anchor="middle" fill="#333" stroke="#333" stroke-width="0.12" textLength="6.808000000000001" lengthAdjust="spacingAndGlyphs" >33</text>
<text x="369.50" y="581.80" font-size="6.6" text-anchor="middle" fill="#333" stroke="#333" stroke-width="0.12" textLength="6.808000000000001" lengthAdjust="spacingAndGlyphs" >33</text>
<line x1="413.75" y1="584.50" x2="413.75" y2="587.50" stroke="#222" stroke-width="1"/>
<text x="413.75" y="596.50" font-size="6.6" text-anchor="middle" fill="#333" stroke="#333" stroke-width="0.12" textLength="6.808000000000001" lengthAdjust="spacingAndGlyphs" >50</text>
<text x="413.75" y="569.60" font-size="6.6" text-anchor="middle" fill="#333" stroke="#333" stroke-width="0.12" textLength="3.4040000000000004" lengthAdjust="spacingAndGlyphs" >5</text>
<text x="413.75" y="581.80" font-size="6.6" text-anchor="middle" fill="#333" stroke="#333" stroke-width="0.12" textLength="3.4040000000000004" lengthAdjust="spacingAndGlyphs" >7</text>
<line x1="458.00" y1="584.50" x2="458.00" y2="587.50" stroke="#222" stroke-width="1"/>
<text x="458.00" y="596.50" font-size="6.6" text-anchor="middle" fill="#333" stroke="#333" stroke-width="0.12" textLength="10.212000000000002" lengthAdjust="spacingAndGlyphs" >100</text>
<text x="458.00" y="569.60" font-size="6.6" text-anchor="middle" fill="#333" stroke="#333" stroke-width="0.12" textLength="3.4040000000000004" lengthAdjust="spacingAndGlyphs" >2</text>
<text x="458.00" y="581.80" font-size="6.6" text-anchor="middle" fill="#333" stroke="#333" stroke-width="0.12" textLength="3.4040000000000004" lengthAdjust="spacingAndGlyphs" >4</text>
<line x1="502.25" y1="584.50" x2="502.25" y2="587.50" stroke="#222" stroke-width="1"/>
<text x="502.25" y="596.50" font-size="6.6" text-anchor="middle" fill="#333" stroke="#333" stroke-width="0.12" textLength="10.212000000000002" lengthAdjust="spacingAndGlyphs" >150</text>
<text x="502.25" y="569.60" font-size="6.6" text-anchor="middle" fill="#333" stroke="#333" stroke-width="0.12" textLength="3.4040000000000004" lengthAdjust="spacingAndGlyphs" >1</text>
<text x="502.25" y="581.80" font-size="6.6" text-anchor="middle" fill="#333" stroke="#333" stroke-width="0.12" textLength="3.4040000000000004" lengthAdjust="spacingAndGlyphs" >0</text>
<text x="435.88" y="609.10" font-size="9.4" text-anchor="middle" fill="#333" stroke="#333" stroke-width="0.08" textLength="13.616000000000001" lengthAdjust="spacingAndGlyphs" >Time</text>
<rect x="0.5" y="0.5" width="519" height="617" fill="none" stroke="#4a4a4a" stroke-width="1.1"/>
</svg></div></body></html>
